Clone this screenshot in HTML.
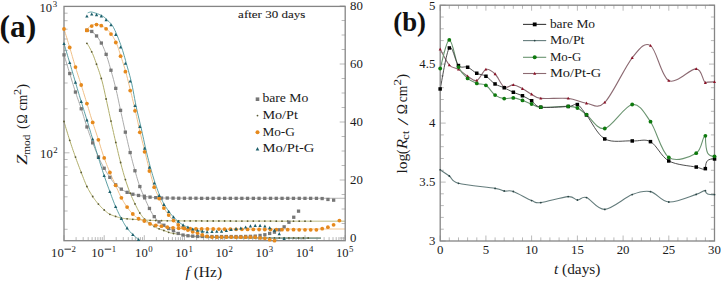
<!DOCTYPE html>
<html><head><meta charset="utf-8"><style>
html,body{margin:0;padding:0;background:#fff;}
svg{display:block;}
text{font-family:"Liberation Serif", serif;}
</style></head><body>
<svg width="725" height="281" viewBox="0 0 725 281">
<rect width="725" height="281" fill="#fff"/>
<defs><clipPath id="ca"><rect x="64" y="6.4" width="281.2" height="234.3"/></clipPath><clipPath id="cb"><rect x="440.2" y="5.2" width="274.3" height="235.8"/></clipPath></defs><path d="M76.1,240.7 v-3.6 M83.2,240.7 v-3.6 M88.2,240.7 v-3.6 M92.1,240.7 v-3.6 M95.3,240.7 v-3.6 M97.9,240.7 v-3.6 M100.3,240.7 v-3.6 M102.3,240.7 v-3.6 M64.0,240.7 v-5.5 M116.2,240.7 v-3.6 M123.3,240.7 v-3.6 M128.3,240.7 v-3.6 M132.2,240.7 v-3.6 M135.4,240.7 v-3.6 M138.1,240.7 v-3.6 M140.4,240.7 v-3.6 M142.5,240.7 v-3.6 M104.2,240.7 v-5.5 M156.4,240.7 v-3.6 M163.5,240.7 v-3.6 M168.5,240.7 v-3.6 M172.4,240.7 v-3.6 M175.6,240.7 v-3.6 M178.3,240.7 v-3.6 M180.6,240.7 v-3.6 M182.6,240.7 v-3.6 M144.3,240.7 v-5.5 M196.6,240.7 v-3.6 M203.6,240.7 v-3.6 M208.7,240.7 v-3.6 M212.6,240.7 v-3.6 M215.7,240.7 v-3.6 M218.4,240.7 v-3.6 M220.7,240.7 v-3.6 M222.8,240.7 v-3.6 M184.5,240.7 v-5.5 M236.7,240.7 v-3.6 M243.8,240.7 v-3.6 M248.8,240.7 v-3.6 M252.7,240.7 v-3.6 M255.9,240.7 v-3.6 M258.6,240.7 v-3.6 M260.9,240.7 v-3.6 M263.0,240.7 v-3.6 M224.6,240.7 v-5.5 M276.9,240.7 v-3.6 M284.0,240.7 v-3.6 M289.0,240.7 v-3.6 M292.9,240.7 v-3.6 M296.1,240.7 v-3.6 M298.7,240.7 v-3.6 M301.1,240.7 v-3.6 M303.1,240.7 v-3.6 M264.8,240.7 v-5.5 M317.0,240.7 v-3.6 M324.1,240.7 v-3.6 M329.1,240.7 v-3.6 M333.0,240.7 v-3.6 M336.2,240.7 v-3.6 M338.9,240.7 v-3.6 M341.2,240.7 v-3.6 M343.3,240.7 v-3.6 M305.0,240.7 v-5.5 M345.1,240.7 v-5.5 M64.0,229.3 h3.6 M64.0,211.0 h3.6 M64.0,196.8 h3.6 M64.0,185.3 h3.6 M64.0,175.5 h3.6 M64.0,167.0 h3.6 M64.0,159.5 h3.6 M64.0,108.8 h3.6 M64.0,83.0 h3.6 M64.0,64.7 h3.6 M64.0,50.5 h3.6 M64.0,39.0 h3.6 M64.0,29.2 h3.6 M64.0,20.7 h3.6 M64.0,13.2 h3.6 M64.0,152.8 h5.5 M64.0,6.5 h5.5 M345.2,238.0 h-5.5 M345.2,223.5 h-3.6 M345.2,209.0 h-3.6 M345.2,194.5 h-3.6 M345.2,180.0 h-5.5 M345.2,165.5 h-3.6 M345.2,151.0 h-3.6 M345.2,136.5 h-3.6 M345.2,122.0 h-5.5 M345.2,107.5 h-3.6 M345.2,93.0 h-3.6 M345.2,78.5 h-3.6 M345.2,64.0 h-5.5 M345.2,49.5 h-3.6 M345.2,35.0 h-3.6 M345.2,20.5 h-3.6 M345.2,6.0 h-5.5" stroke="#a8a8a8" stroke-width="0.8" fill="none"/><g clip-path="url(#ca)"><path d="M64.0,121.5 L64.7,123.9 L65.4,126.3 L66.1,128.6 L66.8,130.9 L67.5,133.2 L68.2,135.4 L68.9,137.7 L69.6,139.9 L70.3,142.0 L71.0,144.2 L71.7,146.3 L72.4,148.3 L73.1,150.4 L73.8,152.4 L74.5,154.4 L75.2,156.4 L75.9,158.3 L76.6,160.3 L77.3,162.2 L78.0,164.0 L78.7,165.9 L79.4,167.7 L80.1,169.6 L80.8,171.4 L81.5,173.2 L82.2,175.0 L82.9,176.8 L83.6,178.6 L84.3,180.4 L85.0,182.1 L85.7,183.8 L86.4,185.4 L87.1,186.8 L87.8,188.2 L88.5,189.5 L89.2,190.8 L89.9,192.0 L90.6,193.2 L91.3,194.4 L92.0,195.5 L92.7,196.6 L93.4,197.6 L94.1,198.6 L94.8,199.6 L95.5,200.5 L96.2,201.4 L96.9,202.3 L97.6,203.1 L98.3,204.0 L99.0,204.8 L99.7,205.5 L100.4,206.3 L101.1,207.0 L101.8,207.8 L102.5,208.4 L103.2,209.1 L103.9,209.7 L104.6,210.3 L105.3,211.0 L106.0,211.6 L106.7,212.1 L107.4,212.7 L108.1,213.2 L108.8,213.7 L109.5,214.1 L110.2,214.4 L110.9,214.8 L111.6,215.0 L112.3,215.3 L113.0,215.6 L113.7,215.8 L114.4,216.0 L115.1,216.2 L115.8,216.5 L116.5,216.7 L117.2,216.9 L117.9,217.2 L118.6,217.4 L119.3,217.6 L120.0,217.8 L120.7,218.0 L121.4,218.1 L122.1,218.2 L122.8,218.3 L123.5,218.4 L124.2,218.5 L124.9,218.6 L125.6,218.7 L126.3,218.7 L127.0,218.8 L127.7,218.9 L128.4,218.9 L129.1,219.0 L129.8,219.1 L130.5,219.1 L131.2,219.2 L131.9,219.2 L132.6,219.3 L133.3,219.3 L134.0,219.4 L134.7,219.4 L135.4,219.5 L136.1,219.5 L136.8,219.5 L137.5,219.6 L138.2,219.6 L138.9,219.6 L139.6,219.7 L140.3,219.7 L141.0,219.8 L141.7,219.8 L142.4,219.9 L143.1,219.9 L143.8,220.0 L144.5,220.0 L145.2,220.0 L145.9,220.1 L146.6,220.1 L147.3,220.2 L148.0,220.2 L148.7,220.2 L149.4,220.3 L150.1,220.3 L150.8,220.3 L151.5,220.4 L152.2,220.4 L152.9,220.4 L153.6,220.4 L154.3,220.5 L155.0,220.5 L155.7,220.5 L156.4,220.5 L157.1,220.5 L157.8,220.6 L158.5,220.6 L159.2,220.6 L159.9,220.6 L160.6,220.6 L161.3,220.7 L162.0,220.7 L162.7,220.7 L163.4,220.7 L164.1,220.7 L164.8,220.7 L165.5,220.7 L166.2,220.8 L166.9,220.8 L167.6,220.8 L168.3,220.8 L169.0,220.8 L169.7,220.8 L170.4,220.8 L171.1,220.8 L171.8,220.8 L172.5,220.8 L173.2,220.8 L173.9,220.8 L174.6,220.8 L175.3,220.8 L176.0,220.8 L176.7,220.8 L177.4,220.8 L178.1,220.8 L178.8,220.8 L179.5,220.8 L180.2,220.9 L180.9,220.9 L181.6,220.9 L182.3,220.9 L183.0,220.9 L183.7,220.9 L184.4,220.9 L185.1,220.9 L185.8,220.9 L186.5,220.9 L187.2,220.9 L187.9,220.9 L188.6,220.9 L189.3,220.9 L190.0,220.9 L190.7,220.9 L191.4,220.9 L192.1,220.9 L192.8,220.9 L193.5,220.9 L194.2,220.9 L194.9,220.9 L195.6,220.9 L196.3,220.9 L197.0,220.9 L197.7,220.9 L198.4,220.9 L199.1,220.9 L199.8,220.9 L200.5,220.9 L201.2,220.9 L201.9,220.9 L202.6,221.0 L203.3,221.0 L204.0,221.0 L204.7,221.0 L205.4,221.0 L206.1,221.0 L206.8,221.0 L207.5,221.0 L208.2,221.0 L208.9,221.0 L209.6,221.0 L210.3,221.0 L211.0,221.0 L211.7,221.0 L212.4,221.0 L213.1,221.0 L213.8,221.0 L214.5,221.0 L215.2,221.0 L215.9,221.0 L216.6,221.0 L217.3,221.0 L218.0,221.0 L218.7,221.0 L219.4,221.0 L220.1,221.0 L220.8,221.0 L221.5,221.0 L222.2,221.0 L222.9,221.0 L223.6,221.0 L224.3,221.0 L225.0,221.0 L225.7,221.0 L226.4,221.0 L227.1,221.0 L227.8,221.0 L228.5,221.0 L229.2,221.0 L229.9,221.0 L230.6,221.0 L231.3,221.1 L232.0,221.1 L232.7,221.1 L233.4,221.1 L234.1,221.1 L234.8,221.1 L235.5,221.1 L236.2,221.1 L236.9,221.1 L237.6,221.1 L238.3,221.1 L239.0,221.1 L239.7,221.1 L240.4,221.1 L241.1,221.1 L241.8,221.1 L242.5,221.1 L243.2,221.1 L243.9,221.1 L244.6,221.1 L245.3,221.1 L246.0,221.1 L246.7,221.1 L247.4,221.1 L248.1,221.1 L248.8,221.1 L249.5,221.1 L250.2,221.1 L250.9,221.1 L251.6,221.1 L252.3,221.1 L253.0,221.1 L253.7,221.1 L254.4,221.1 L255.1,221.1 L255.8,221.1 L256.5,221.1 L257.2,221.1 L257.9,221.1 L258.6,221.1 L259.3,221.1 L260.0,221.1 L260.7,221.1 L261.4,221.1 L262.1,221.1 L262.8,221.1 L263.5,221.1 L264.2,221.1 L264.9,221.1 L265.6,221.1 L266.3,221.1 L267.0,221.1 L267.7,221.1 L268.4,221.1 L269.1,221.1 L269.8,221.1 L270.5,221.1 L271.2,221.1 L271.9,221.1 L272.6,221.1 L273.3,221.1 L274.0,221.1 L274.7,221.1 L275.4,221.1 L276.1,221.2 L276.8,221.2 L277.5,221.2 L278.2,221.2 L278.9,221.2 L279.6,221.2 L280.3,221.2 L281.0,221.2 L281.7,221.2 L282.4,221.2 L283.1,221.2 L283.8,221.2 L284.5,221.2 L285.2,221.2 L285.9,221.2 L286.6,221.2 L287.3,221.2 L288.0,221.2 L288.7,221.2 L289.4,221.2 L290.1,221.2 L290.8,221.2 L291.5,221.2 L292.2,221.2 L292.9,221.2 L293.6,221.2 L294.3,221.2 L295.0,221.2 L295.7,221.2 L296.4,221.2 L297.1,221.2 L297.8,221.2 L298.5,221.2 L299.2,221.2 L299.9,221.2 L300.6,221.2 L301.3,221.2 L302.0,221.2 L302.7,221.2 L303.4,221.2 L304.1,221.2 L304.8,221.2 L305.5,221.2 L306.2,221.2 L306.9,221.2 L307.6,221.2 L308.3,221.2 L309.0,221.2 L309.7,221.2 L310.4,221.2 L311.1,221.2 L311.8,221.2 L312.5,221.2 L313.2,221.2 L313.9,221.2 L314.6,221.2 L315.3,221.2 L316.0,221.2 L316.7,221.2 L317.4,221.2 L318.1,221.2 L318.8,221.2 L319.5,221.2 L320.2,221.2 L320.9,221.2 L321.6,221.2 L322.3,221.2 L323.0,221.2 L323.7,221.2 L324.4,221.2 L325.1,221.2 L325.8,221.2 L326.5,221.2 L327.2,221.2 L327.9,221.2 L328.6,221.2 L329.3,221.2 L330.0,221.2 L330.7,221.2 L331.4,221.2 L332.1,221.2 L332.8,221.2 L333.5,221.2 L334.2,221.2 L334.9,221.2 L335.6,221.2 L336.3,221.2 L337.0,221.2 L337.7,221.2 L338.4,221.2 L339.1,221.2 L339.8,221.2 L340.5,221.2 L341.2,221.2 L341.9,221.2 L342.6,221.2 L343.3,221.2 L344.0,221.2 L344.7,221.2 L345.2,221.2" fill="none" stroke="#b0ae6c" stroke-width="1.0" stroke-linejoin="round"/><path d="M86.9,43.3 L87.6,44.3 L88.3,45.4 L89.0,46.5 L89.7,47.8 L90.4,49.1 L91.1,50.5 L91.8,52.0 L92.5,53.5 L93.2,55.1 L93.9,56.9 L94.6,58.8 L95.3,60.7 L96.0,62.7 L96.7,64.7 L97.4,66.7 L98.1,68.6 L98.8,70.7 L99.5,72.7 L100.2,74.9 L100.9,77.1 L101.6,79.5 L102.3,82.0 L103.0,84.8 L103.7,87.8 L104.4,90.9 L105.1,94.2 L105.8,97.4 L106.5,100.6 L107.2,103.8 L107.9,107.0 L108.6,110.3 L109.3,113.5 L110.0,116.8 L110.7,120.0 L111.4,123.2 L112.1,126.3 L112.8,129.4 L113.5,132.5 L114.2,135.6 L114.9,138.7 L115.6,141.7 L116.3,144.7 L117.0,147.7 L117.7,150.7 L118.4,153.7 L119.1,156.6 L119.8,159.5 L120.5,162.2 L121.2,164.9 L121.9,167.6 L122.6,170.1 L123.3,172.6 L124.0,175.1 L124.7,177.4 L125.4,179.7 L126.1,181.9 L126.8,184.0 L127.5,186.0 L128.2,188.0 L128.9,189.9 L129.6,191.7 L130.3,193.5 L131.0,195.2 L131.7,196.8 L132.4,198.4 L133.1,199.9 L133.8,201.4 L134.5,202.9 L135.2,204.3 L135.9,205.7 L136.6,207.1 L137.3,208.5 L138.0,209.9 L138.7,211.2 L139.4,212.4 L140.1,213.4 L140.8,214.5 L141.5,215.4 L142.2,216.3 L142.9,217.2 L143.6,218.0 L144.3,218.8 L145.0,219.5 L145.7,220.2 L146.4,220.8 L147.1,221.3 L147.8,221.9 L148.5,222.4 L149.2,222.9 L149.9,223.4 L150.6,223.9 L151.3,224.4 L152.0,224.9 L152.7,225.4 L153.4,225.9 L154.1,226.4 L154.8,226.8 L155.5,227.2 L156.2,227.6 L156.9,228.0 L157.6,228.3 L158.3,228.6 L159.0,228.8 L159.7,229.1 L160.4,229.3 L161.1,229.6 L161.8,229.8 L162.5,230.0 L163.2,230.3 L163.9,230.5 L164.6,230.7 L165.3,231.0 L166.0,231.3 L166.7,231.6 L167.4,231.8 L168.1,232.1 L168.8,232.4 L169.5,232.6 L170.2,232.8 L170.9,233.0 L171.6,233.1 L172.3,233.3 L173.0,233.4 L173.7,233.5 L174.4,233.6 L175.1,233.7 L175.8,233.8 L176.5,233.9 L177.2,234.0 L177.9,234.1 L178.6,234.2 L179.3,234.3 L180.0,234.5 L180.7,234.6 L181.4,234.7 L182.1,234.8 L182.8,235.0 L183.5,235.1 L184.2,235.2 L184.9,235.3 L185.6,235.4 L186.3,235.5 L187.0,235.7 L187.7,235.8 L188.4,235.9 L189.1,236.0 L189.8,236.1 L190.5,236.2 L191.2,236.3 L191.9,236.4 L192.6,236.4 L193.3,236.5 L194.0,236.5 L194.7,236.6 L195.4,236.6 L196.1,236.7 L196.8,236.7 L197.5,236.8 L198.2,236.8 L198.9,236.9 L199.6,236.9 L200.3,236.9 L201.0,237.0 L201.7,237.0 L202.4,237.1 L203.1,237.1 L203.8,237.1 L204.5,237.1 L205.2,237.2 L205.9,237.2 L206.6,237.2 L207.3,237.2 L208.0,237.3 L208.7,237.3 L209.4,237.3 L210.1,237.3 L210.8,237.3 L211.5,237.3 L212.2,237.3 L212.9,237.4 L213.6,237.4 L214.3,237.4 L215.0,237.4 L215.7,237.4 L216.4,237.4 L217.1,237.4 L217.8,237.4 L218.5,237.4 L219.2,237.5 L219.9,237.5 L220.6,237.5 L221.3,237.5 L222.0,237.5 L222.7,237.5 L223.4,237.5 L224.1,237.5 L224.8,237.5 L225.5,237.5 L226.2,237.5 L226.9,237.6 L227.6,237.6 L228.3,237.6 L229.0,237.6 L229.7,237.6 L230.4,237.6 L231.1,237.6 L231.8,237.6 L232.5,237.6 L233.2,237.6 L233.9,237.6 L234.6,237.6 L235.3,237.6 L236.0,237.6 L236.7,237.6 L237.4,237.7 L238.1,237.7 L238.8,237.7 L239.5,237.7 L240.2,237.7 L240.9,237.7 L241.6,237.7 L242.3,237.7 L243.0,237.7 L243.7,237.7 L244.4,237.7 L245.1,237.7 L245.8,237.7 L246.5,237.7 L247.2,237.7 L247.9,237.7 L248.6,237.7 L249.3,237.7 L250.0,237.7 L250.7,237.7 L251.4,237.8 L252.1,237.8 L252.8,237.8 L253.5,237.8 L254.2,237.8 L254.9,237.8 L255.6,237.8 L256.3,237.8 L257.0,237.8 L257.7,237.8 L258.4,237.8 L259.1,237.8 L259.8,237.8 L260.5,237.8 L261.2,237.8 L261.9,237.8 L262.6,237.8 L263.3,237.8 L264.0,237.8 L264.7,237.8 L265.4,237.8 L266.1,237.8 L266.8,237.8 L267.5,237.8 L268.2,237.8 L268.9,237.8 L269.6,237.8 L270.3,237.9 L271.0,237.9 L271.7,237.9 L272.4,237.9 L273.1,237.9 L273.8,237.9 L274.5,237.9 L275.2,237.9 L275.9,237.9 L276.6,237.9 L277.3,237.9 L278.0,237.9 L278.7,237.9 L279.4,237.9 L280.1,237.9 L280.8,237.9 L281.5,237.9 L282.2,237.9 L282.9,237.9 L283.6,237.9 L284.3,237.9 L285.0,237.9 L285.7,237.9 L286.4,237.9 L287.1,237.9 L287.8,237.9 L288.5,237.9 L289.2,237.9 L289.9,237.9 L290.6,237.9 L291.3,237.9 L292.0,237.9 L292.7,237.9 L293.4,237.9 L294.1,238.0 L294.8,238.0 L295.5,238.0 L296.2,238.0 L296.9,238.0 L297.6,238.0 L298.3,238.0 L299.0,238.0 L299.7,238.0 L300.4,238.0 L301.1,238.0 L301.8,238.0 L302.5,238.0 L303.2,238.0 L303.9,238.0 L304.6,238.0 L305.3,238.0 L306.0,238.0 L306.7,238.0 L307.4,238.0 L308.1,238.0 L308.8,238.0 L309.5,238.0 L310.2,238.0 L310.9,238.0 L311.6,238.0 L312.3,238.0 L313.0,238.0 L313.7,238.0 L314.4,238.0 L315.1,238.0 L315.8,238.0 L316.5,238.0 L317.2,238.0 L317.9,238.0 L318.6,238.0 L319.3,238.0 L320.0,238.0 L320.7,238.0 L321.0,238.0" fill="none" stroke="#b0ae6c" stroke-width="1.0" stroke-linejoin="round"/><path d="M64.0,54.9 L64.7,57.2 L65.4,59.4 L66.1,61.7 L66.8,64.0 L67.5,66.3 L68.2,68.5 L68.9,70.8 L69.6,73.1 L70.3,75.4 L71.0,77.6 L71.7,80.0 L72.4,82.3 L73.1,84.5 L73.8,86.8 L74.5,89.0 L75.2,91.2 L75.9,93.3 L76.6,95.4 L77.3,97.4 L78.0,99.4 L78.7,101.4 L79.4,103.4 L80.1,105.4 L80.8,107.5 L81.5,109.6 L82.2,111.8 L82.9,114.0 L83.6,116.3 L84.3,118.6 L85.0,120.9 L85.7,123.1 L86.4,125.3 L87.1,127.4 L87.8,129.4 L88.5,131.4 L89.2,133.4 L89.9,135.4 L90.6,137.3 L91.3,139.2 L92.0,141.0 L92.7,142.9 L93.4,144.7 L94.1,146.5 L94.8,148.3 L95.5,150.1 L96.2,151.8 L96.9,153.5 L97.6,155.1 L98.3,156.7 L99.0,158.2 L99.7,159.7 L100.4,161.1 L101.1,162.5 L101.8,163.9 L102.5,165.2 L103.2,166.5 L103.9,167.8 L104.6,169.0 L105.3,170.2 L106.0,171.4 L106.7,172.5 L107.4,173.6 L108.1,174.7 L108.8,175.7 L109.5,176.7 L110.2,177.7 L110.9,178.8 L111.6,179.8 L112.3,180.8 L113.0,181.7 L113.7,182.7 L114.4,183.5 L115.1,184.3 L115.8,185.0 L116.5,185.6 L117.2,186.2 L117.9,186.8 L118.6,187.3 L119.3,187.8 L120.0,188.2 L120.7,188.7 L121.4,189.2 L122.1,189.6 L122.8,190.1 L123.5,190.5 L124.2,190.9 L124.9,191.3 L125.6,191.6 L126.3,192.0 L127.0,192.3 L127.7,192.6 L128.4,192.9 L129.1,193.1 L129.8,193.4 L130.5,193.6 L131.2,193.8 L131.9,194.0 L132.6,194.2 L133.3,194.4 L134.0,194.5 L134.7,194.7 L135.4,194.8 L136.1,195.0 L136.8,195.1 L137.5,195.2 L138.2,195.3 L138.9,195.5 L139.6,195.6 L140.3,195.7 L141.0,195.8 L141.7,195.9 L142.4,195.9 L143.1,196.0 L143.8,196.1 L144.5,196.2 L145.2,196.4 L145.9,196.5 L146.6,196.6 L147.3,196.7 L148.0,196.9 L148.7,197.0 L149.4,197.1 L150.1,197.2 L150.8,197.2 L151.5,197.3 L152.2,197.3 L152.9,197.4 L153.6,197.5 L154.3,197.5 L155.0,197.6 L155.7,197.6 L156.4,197.7 L157.1,197.7 L157.8,197.8 L158.5,197.8 L159.2,197.9 L159.9,197.9 L160.6,198.0 L161.3,198.0 L162.0,198.0 L162.7,198.0 L163.4,198.0 L164.1,198.0 L164.8,198.1 L165.5,198.1 L166.2,198.1 L166.9,198.1 L167.6,198.1 L168.3,198.1 L169.0,198.1 L169.7,198.1 L170.4,198.1 L171.1,198.1 L171.8,198.1 L172.5,198.2 L173.2,198.2 L173.9,198.2 L174.6,198.2 L175.3,198.2 L176.0,198.2 L176.7,198.2 L177.4,198.2 L178.1,198.2 L178.8,198.2 L179.5,198.2 L180.2,198.2 L180.9,198.2 L181.6,198.2 L182.3,198.2 L183.0,198.2 L183.7,198.3 L184.4,198.3 L185.1,198.3 L185.8,198.3 L186.5,198.3 L187.2,198.3 L187.9,198.3 L188.6,198.3 L189.3,198.3 L190.0,198.3 L190.7,198.3 L191.4,198.3 L192.1,198.3 L192.8,198.3 L193.5,198.3 L194.2,198.3 L194.9,198.3 L195.6,198.3 L196.3,198.3 L197.0,198.3 L197.7,198.3 L198.4,198.3 L199.1,198.3 L199.8,198.3 L200.5,198.3 L201.2,198.3 L201.9,198.3 L202.6,198.3 L203.3,198.3 L204.0,198.3 L204.7,198.3 L205.4,198.3 L206.1,198.3 L206.8,198.3 L207.5,198.3 L208.2,198.3 L208.9,198.3 L209.6,198.3 L210.3,198.3 L211.0,198.3 L211.7,198.3 L212.4,198.3 L213.1,198.3 L213.8,198.3 L214.5,198.3 L215.2,198.3 L215.9,198.3 L216.6,198.3 L217.3,198.3 L218.0,198.3 L218.7,198.3 L219.4,198.3 L220.1,198.3 L220.8,198.3 L221.5,198.3 L222.2,198.3 L222.9,198.3 L223.6,198.3 L224.3,198.3 L225.0,198.3 L225.7,198.3 L226.4,198.3 L227.1,198.3 L227.8,198.3 L228.5,198.3 L229.2,198.3 L229.9,198.3 L230.6,198.3 L231.3,198.3 L232.0,198.3 L232.7,198.3 L233.4,198.3 L234.1,198.3 L234.8,198.3 L235.5,198.3 L236.2,198.3 L236.9,198.3 L237.6,198.3 L238.3,198.3 L239.0,198.3 L239.7,198.3 L240.4,198.3 L241.1,198.3 L241.8,198.3 L242.5,198.3 L243.2,198.3 L243.9,198.3 L244.6,198.3 L245.3,198.3 L246.0,198.3 L246.7,198.3 L247.4,198.3 L248.1,198.3 L248.8,198.3 L249.5,198.3 L250.2,198.3 L250.9,198.3 L251.6,198.3 L252.3,198.3 L253.0,198.3 L253.7,198.3 L254.4,198.3 L255.1,198.3 L255.8,198.3 L256.5,198.3 L257.2,198.3 L257.9,198.3 L258.6,198.3 L259.3,198.3 L260.0,198.3 L260.7,198.3 L261.4,198.3 L262.1,198.3 L262.8,198.3 L263.5,198.3 L264.2,198.3 L264.9,198.3 L265.6,198.3 L266.3,198.3 L267.0,198.3 L267.7,198.3 L268.4,198.3 L269.1,198.3 L269.8,198.3 L270.5,198.3 L271.2,198.3 L271.9,198.3 L272.6,198.3 L273.3,198.3 L274.0,198.3 L274.7,198.3 L275.4,198.3 L276.1,198.3 L276.8,198.3 L277.5,198.3 L278.2,198.3 L278.9,198.3 L279.6,198.3 L280.3,198.3 L281.0,198.3 L281.7,198.3 L282.4,198.3 L283.1,198.3 L283.8,198.3 L284.5,198.3 L285.2,198.3 L285.9,198.3 L286.6,198.3 L287.3,198.3 L288.0,198.3 L288.7,198.3 L289.4,198.3 L290.1,198.3 L290.8,198.3 L291.5,198.3 L292.2,198.3 L292.9,198.3 L293.6,198.3 L294.3,198.3 L295.0,198.3 L295.7,198.3 L296.4,198.3 L297.1,198.3 L297.8,198.3 L298.5,198.3 L299.2,198.3 L299.9,198.3 L300.6,198.3 L301.3,198.3 L302.0,198.3 L302.7,198.3 L303.4,198.3 L304.1,198.3 L304.8,198.3 L305.5,198.3 L306.2,198.3 L306.9,198.3 L307.6,198.3 L308.3,198.3 L309.0,198.3 L309.7,198.3 L310.4,198.3 L311.1,198.3 L311.8,198.3 L312.5,198.3 L313.2,198.3 L313.9,198.3 L314.6,198.3 L315.3,198.3 L316.0,198.3 L316.7,198.3 L317.4,198.3 L318.1,198.3 L318.8,198.3 L319.5,198.3 L320.2,198.3 L320.9,198.3 L321.6,198.3 L322.3,198.3 L323.0,198.3 L323.7,198.3 L324.4,198.3 L325.1,198.3 L325.8,198.3 L326.5,198.3 L327.2,198.3 L327.9,198.3 L328.6,198.3 L329.3,198.3 L330.0,198.3 L330.7,198.3 L331.4,198.3 L332.1,198.3 L332.8,198.3 L333.5,198.3 L334.2,198.3 L334.9,198.3 L335.6,198.3 L336.3,198.3 L337.0,198.3 L337.7,198.3 L338.4,198.3 L339.1,198.3 L339.8,198.3 L340.5,198.3 L341.2,198.3 L341.9,198.3 L342.6,198.3 L343.3,198.3 L344.0,198.3 L344.7,198.3 L345.2,198.3" fill="none" stroke="#a2a2a2" stroke-width="0.9" stroke-linejoin="round"/><path d="M86.9,30.3 L87.6,30.3 L88.3,30.4 L89.0,30.6 L89.7,30.8 L90.4,31.0 L91.1,31.3 L91.8,31.5 L92.5,31.9 L93.2,32.5 L93.9,33.1 L94.6,33.8 L95.3,34.6 L96.0,35.4 L96.7,36.2 L97.4,37.0 L98.1,37.9 L98.8,38.9 L99.5,40.0 L100.2,41.1 L100.9,42.3 L101.6,43.5 L102.3,44.9 L103.0,46.4 L103.7,48.0 L104.4,49.7 L105.1,51.5 L105.8,53.4 L106.5,55.4 L107.2,57.5 L107.9,59.7 L108.6,62.0 L109.3,64.4 L110.0,66.9 L110.7,69.4 L111.4,71.9 L112.1,74.4 L112.8,76.9 L113.5,79.5 L114.2,82.1 L114.9,84.9 L115.6,87.7 L116.3,90.6 L117.0,93.6 L117.7,96.8 L118.4,100.1 L119.1,103.5 L119.8,106.8 L120.5,110.0 L121.2,113.2 L121.9,116.4 L122.6,119.6 L123.3,122.8 L124.0,126.0 L124.7,129.1 L125.4,132.2 L126.1,135.3 L126.8,138.3 L127.5,141.3 L128.2,144.3 L128.9,147.3 L129.6,150.2 L130.3,153.0 L131.0,155.8 L131.7,158.5 L132.4,161.2 L133.1,163.9 L133.8,166.5 L134.5,169.0 L135.2,171.5 L135.9,173.9 L136.6,176.4 L137.3,178.8 L138.0,181.1 L138.7,183.3 L139.4,185.4 L140.1,187.3 L140.8,189.2 L141.5,190.9 L142.2,192.5 L142.9,194.1 L143.6,195.6 L144.3,197.2 L145.0,198.8 L145.7,200.4 L146.4,202.0 L147.1,203.5 L147.8,205.1 L148.5,206.6 L149.2,208.0 L149.9,209.4 L150.6,210.7 L151.3,212.0 L152.0,213.2 L152.7,214.4 L153.4,215.5 L154.1,216.5 L154.8,217.4 L155.5,218.2 L156.2,219.0 L156.9,219.8 L157.6,220.5 L158.3,221.2 L159.0,221.8 L159.7,222.3 L160.4,222.9 L161.1,223.4 L161.8,223.8 L162.5,224.3 L163.2,224.8 L163.9,225.3 L164.6,225.8 L165.3,226.3 L166.0,226.9 L166.7,227.4 L167.4,227.8 L168.1,228.3 L168.8,228.7 L169.5,229.0 L170.2,229.3 L170.9,229.6 L171.6,229.9 L172.3,230.2 L173.0,230.5 L173.7,230.8 L174.4,231.2 L175.1,231.6 L175.8,232.1 L176.5,232.5 L177.2,232.9 L177.9,233.3 L178.6,233.6 L179.3,233.8 L180.0,234.1 L180.7,234.4 L181.4,234.6 L182.1,234.8 L182.8,235.0 L183.5,235.1 L184.2,235.2 L184.9,235.3 L185.6,235.4 L186.3,235.5 L187.0,235.6 L187.7,235.7 L188.4,235.8 L189.1,235.8 L189.8,235.9 L190.5,236.0 L191.2,236.0 L191.9,236.1 L192.6,236.1 L193.3,236.2 L194.0,236.2 L194.7,236.3 L195.4,236.3 L196.1,236.4 L196.8,236.4 L197.5,236.4 L198.2,236.4 L198.9,236.4 L199.6,236.4 L200.3,236.4 L201.0,236.4 L201.7,236.5 L202.4,236.5 L203.1,236.5 L203.8,236.5 L204.5,236.5 L205.2,236.5 L205.9,236.5 L206.6,236.5 L207.3,236.5 L208.0,236.5 L208.7,236.5 L209.4,236.5 L210.1,236.5 L210.8,236.5 L211.5,236.5 L212.2,236.5 L212.9,236.6 L213.6,236.6 L214.3,236.6 L215.0,236.6 L215.7,236.6 L216.4,236.6 L217.1,236.6 L217.8,236.6 L218.5,236.6 L219.2,236.6 L219.9,236.6 L220.6,236.6 L221.3,236.6 L222.0,236.6 L222.7,236.6 L223.4,236.6 L224.1,236.6 L224.8,236.6 L225.5,236.6 L226.2,236.6 L226.9,236.6 L227.6,236.6 L228.3,236.6 L229.0,236.6 L229.7,236.6 L230.4,236.6 L231.1,236.6 L231.8,236.6 L232.5,236.6 L233.2,236.6 L233.9,236.6 L234.6,236.6 L235.3,236.6 L236.0,236.6 L236.7,236.6 L237.4,236.6 L238.1,236.5 L238.8,236.5 L239.5,236.5 L240.2,236.5 L240.9,236.5 L241.6,236.5 L242.3,236.5 L243.0,236.5 L243.7,236.5 L244.4,236.4 L245.1,236.4 L245.8,236.4 L246.5,236.4 L247.2,236.4 L247.9,236.4 L248.6,236.4 L249.3,236.3 L250.0,236.3 L250.7,236.3 L251.4,236.3 L252.1,236.3 L252.8,236.3 L253.5,236.2 L254.2,236.2 L254.9,236.2 L255.0,236.2" fill="none" stroke="#a2a2a2" stroke-width="0.9" stroke-linejoin="round"/><path d="M64.0,29.0 L64.7,31.2 L65.4,33.4 L66.1,35.7 L66.8,37.9 L67.5,40.2 L68.2,42.5 L68.9,44.8 L69.6,47.1 L70.3,49.4 L71.0,51.8 L71.7,54.2 L72.4,56.7 L73.1,59.1 L73.8,61.5 L74.5,63.9 L75.2,66.2 L75.9,68.5 L76.6,70.7 L77.3,72.9 L78.0,75.1 L78.7,77.2 L79.4,79.4 L80.1,81.5 L80.8,83.7 L81.5,86.0 L82.2,88.2 L82.9,90.4 L83.6,92.7 L84.3,95.0 L85.0,97.2 L85.7,99.5 L86.4,101.8 L87.1,104.1 L87.8,106.4 L88.5,108.7 L89.2,111.0 L89.9,113.4 L90.6,115.7 L91.3,118.0 L92.0,120.2 L92.7,122.4 L93.4,124.6 L94.1,126.7 L94.8,128.8 L95.5,130.9 L96.2,133.0 L96.9,135.1 L97.6,137.2 L98.3,139.4 L99.0,141.6 L99.7,143.9 L100.4,146.2 L101.1,148.5 L101.8,150.8 L102.5,153.0 L103.2,155.1 L103.9,157.2 L104.6,159.1 L105.3,161.0 L106.0,162.8 L106.7,164.6 L107.4,166.4 L108.1,168.1 L108.8,169.8 L109.5,171.5 L110.2,173.2 L110.9,174.8 L111.6,176.4 L112.3,178.0 L113.0,179.5 L113.7,181.0 L114.4,182.6 L115.1,184.1 L115.8,185.7 L116.5,187.3 L117.2,188.9 L117.9,190.5 L118.6,192.1 L119.3,193.6 L120.0,195.1 L120.7,196.5 L121.4,197.9 L122.1,199.1 L122.8,200.4 L123.5,201.6 L124.2,202.7 L124.9,203.9 L125.6,204.9 L126.3,206.0 L127.0,207.0 L127.7,207.9 L128.4,208.9 L129.1,209.8 L129.8,210.7 L130.5,211.5 L131.2,212.3 L131.9,213.1 L132.6,213.8 L133.3,214.5 L134.0,215.2 L134.7,215.8 L135.4,216.4 L136.1,217.0 L136.8,217.6 L137.5,218.1 L138.2,218.5 L138.9,218.9 L139.6,219.2 L140.3,219.5 L141.0,219.7 L141.7,220.0 L142.4,220.2 L143.1,220.5 L143.8,220.8 L144.5,221.1 L145.2,221.4 L145.9,221.8 L146.6,222.2 L147.3,222.6 L148.0,223.0 L148.7,223.4 L149.4,223.7 L150.1,223.9 L150.8,224.1 L151.5,224.3 L152.2,224.5 L152.9,224.6 L153.6,224.8 L154.3,225.0 L155.0,225.1 L155.7,225.2 L156.4,225.4 L157.1,225.5 L157.8,225.6 L158.5,225.7 L159.2,225.9 L159.9,226.0 L160.6,226.1 L161.3,226.2 L162.0,226.3 L162.7,226.5 L163.4,226.6 L164.1,226.7 L164.8,226.8 L165.5,227.0 L166.2,227.1 L166.9,227.2 L167.6,227.3 L168.3,227.3 L169.0,227.4 L169.7,227.5 L170.4,227.6 L171.1,227.6 L171.8,227.7 L172.5,227.8 L173.2,227.8 L173.9,227.9 L174.6,228.0 L175.3,228.0 L176.0,228.1 L176.7,228.2 L177.4,228.2 L178.1,228.3 L178.8,228.3 L179.5,228.3 L180.2,228.4 L180.9,228.4 L181.6,228.4 L182.3,228.4 L183.0,228.5 L183.7,228.5 L184.4,228.5 L185.1,228.5 L185.8,228.6 L186.5,228.6 L187.2,228.6 L187.9,228.6 L188.6,228.7 L189.3,228.7 L190.0,228.7 L190.7,228.7 L191.4,228.7 L192.1,228.7 L192.8,228.7 L193.5,228.7 L194.2,228.8 L194.9,228.8 L195.6,228.8 L196.3,228.8 L197.0,228.8 L197.7,228.8 L198.4,228.8 L199.1,228.8 L199.8,228.8 L200.5,228.8 L201.2,228.8 L201.9,228.8 L202.6,228.9 L203.3,228.9 L204.0,228.9 L204.7,228.9 L205.4,228.9 L206.1,228.9 L206.8,228.9 L207.5,228.9 L208.2,228.9 L208.9,228.9 L209.6,228.9 L210.3,228.9 L211.0,228.9 L211.7,228.9 L212.4,228.9 L213.1,228.9 L213.8,228.9 L214.5,229.0 L215.2,229.0 L215.9,229.0 L216.6,229.0 L217.3,229.0 L218.0,229.0 L218.7,229.0 L219.4,229.0 L220.1,229.0 L220.8,229.0 L221.5,229.0 L222.2,229.0 L222.9,229.0 L223.6,229.0 L224.3,229.0 L225.0,229.0 L225.7,229.0 L226.4,229.0 L227.1,229.0 L227.8,229.0 L228.5,229.0 L229.2,229.0 L229.9,229.0 L230.6,229.0 L231.3,229.0 L232.0,229.0 L232.7,229.0 L233.4,229.0 L234.1,229.0 L234.8,229.0 L235.5,229.0 L236.2,229.0 L236.9,229.0 L237.6,229.0 L238.3,229.0 L239.0,229.0 L239.7,229.0 L240.4,229.0 L241.1,229.0 L241.8,229.0 L242.5,229.0 L243.2,229.0 L243.9,229.0 L244.6,229.0 L245.3,229.0 L246.0,229.0 L246.7,229.0 L247.4,229.0 L248.1,229.0 L248.8,229.0 L249.5,229.0 L250.2,229.0 L250.9,229.0 L251.6,229.0 L252.3,229.0 L253.0,229.0 L253.7,229.0 L254.4,229.0 L255.1,229.0 L255.8,229.0 L256.5,229.0 L257.2,229.0 L257.9,229.0 L258.6,229.0 L259.3,229.0 L260.0,229.0 L260.7,229.0 L261.4,229.0 L262.1,229.0 L262.8,229.0 L263.5,229.0 L264.2,229.0 L264.9,229.0 L265.6,229.0 L266.3,229.0 L267.0,229.0 L267.7,229.0 L268.4,229.0 L269.1,229.0 L269.8,229.0 L270.5,229.0 L271.2,229.0 L271.9,229.0 L272.6,229.0 L273.3,229.0 L274.0,229.0 L274.7,229.0 L275.4,229.0 L276.1,229.0 L276.8,229.0 L277.5,229.0 L278.2,229.0 L278.9,229.0 L279.6,229.0 L280.3,229.0 L281.0,229.0 L281.7,229.0 L282.4,229.0 L283.1,229.0 L283.8,229.0 L284.5,229.0 L285.2,229.0 L285.9,229.0 L286.6,229.0 L287.3,229.0 L288.0,229.0 L288.7,229.0 L289.4,229.0 L290.1,229.0 L290.8,229.0 L291.5,229.0 L292.2,229.0 L292.9,229.0 L293.6,229.0 L294.3,229.0 L295.0,229.0 L295.7,229.0 L296.4,229.0 L297.1,229.0 L297.8,229.0 L298.5,229.0 L299.2,229.0 L299.9,229.0 L300.6,229.0 L301.3,229.0 L302.0,229.0 L302.7,229.0 L303.4,229.0 L304.1,229.0 L304.8,229.0 L305.5,229.0 L306.2,229.0 L306.9,229.0 L307.6,229.0 L308.3,229.0 L309.0,229.0 L309.7,229.0 L310.4,229.0 L311.1,229.0 L311.8,229.0 L312.5,229.0 L313.2,229.0 L313.9,229.0 L314.6,229.0 L315.3,229.0 L316.0,229.0 L316.7,229.0 L317.4,229.0 L318.1,229.0 L318.8,229.0 L319.5,229.0 L320.2,229.0 L320.9,229.0 L321.6,229.0 L322.3,229.0 L323.0,229.0 L323.7,229.0 L324.4,229.0 L325.1,229.0 L325.8,229.0 L326.5,229.0 L327.2,229.0 L327.9,229.0 L328.6,229.0 L329.3,229.0 L330.0,229.0 L330.7,229.0 L331.4,229.0 L332.1,229.0 L332.8,229.0 L333.5,229.0 L334.2,229.0 L334.9,229.0 L335.6,229.0 L336.3,229.0 L337.0,229.0 L337.7,229.0 L338.4,229.0 L339.1,229.0 L339.8,229.0 L340.5,229.0 L341.2,229.0 L341.9,229.0 L342.6,229.0 L343.3,229.0 L344.0,229.0 L344.7,229.0 L345.2,229.0" fill="none" stroke="#f0c088" stroke-width="1.0" stroke-linejoin="round"/><path d="M86.9,29.3 L87.6,28.5 L88.3,27.8 L89.0,27.2 L89.7,26.6 L90.4,26.1 L91.1,25.7 L91.8,25.4 L92.5,25.1 L93.2,24.9 L93.9,24.7 L94.6,24.5 L95.3,24.3 L96.0,24.3 L96.7,24.3 L97.4,24.3 L98.1,24.5 L98.8,24.7 L99.5,24.9 L100.2,25.2 L100.9,25.5 L101.6,25.7 L102.3,26.1 L103.0,26.4 L103.7,26.8 L104.4,27.3 L105.1,27.8 L105.8,28.3 L106.5,28.9 L107.2,29.5 L107.9,30.2 L108.6,30.9 L109.3,31.6 L110.0,32.5 L110.7,33.4 L111.4,34.3 L112.1,35.3 L112.8,36.4 L113.5,37.6 L114.2,38.8 L114.9,40.1 L115.6,41.5 L116.3,43.0 L117.0,44.6 L117.7,46.5 L118.4,48.5 L119.1,50.6 L119.8,52.9 L120.5,55.1 L121.2,57.2 L121.9,59.4 L122.6,61.6 L123.3,63.8 L124.0,66.0 L124.7,68.3 L125.4,70.7 L126.1,73.2 L126.8,75.8 L127.5,78.5 L128.2,81.3 L128.9,84.1 L129.6,87.0 L130.3,89.8 L131.0,92.6 L131.7,95.5 L132.4,98.4 L133.1,101.4 L133.8,104.3 L134.5,107.3 L135.2,110.3 L135.9,113.4 L136.6,116.5 L137.3,119.7 L138.0,122.9 L138.7,126.1 L139.4,129.2 L140.1,132.2 L140.8,135.2 L141.5,138.0 L142.2,140.9 L142.9,143.7 L143.6,146.5 L144.3,149.3 L145.0,152.1 L145.7,154.9 L146.4,157.8 L147.1,160.7 L147.8,163.5 L148.5,166.3 L149.2,169.0 L149.9,171.6 L150.6,174.2 L151.3,176.8 L152.0,179.3 L152.7,181.8 L153.4,184.0 L154.1,186.1 L154.8,188.1 L155.5,189.9 L156.2,191.6 L156.9,193.3 L157.6,194.9 L158.3,196.5 L159.0,198.0 L159.7,199.6 L160.4,201.1 L161.1,202.6 L161.8,204.0 L162.5,205.4 L163.2,206.7 L163.9,208.0 L164.6,209.1 L165.3,210.2 L166.0,211.3 L166.7,212.3 L167.4,213.3 L168.1,214.3 L168.8,215.2 L169.5,216.1 L170.2,216.9 L170.9,217.8 L171.6,218.5 L172.3,219.3 L173.0,220.1 L173.7,220.8 L174.4,221.5 L175.1,222.2 L175.8,222.9 L176.5,223.5 L177.2,224.1 L177.9,224.7 L178.6,225.2 L179.3,225.7 L180.0,226.1 L180.7,226.5 L181.4,226.9 L182.1,227.3 L182.8,227.7 L183.5,228.1 L184.2,228.4 L184.9,228.7 L185.6,229.0 L186.3,229.3 L187.0,229.6 L187.7,229.9 L188.4,230.2 L189.1,230.5 L189.8,230.7 L190.5,231.0 L191.2,231.3 L191.9,231.5 L192.6,231.8 L193.3,232.0 L194.0,232.2 L194.7,232.4 L195.4,232.6 L196.1,232.7 L196.8,232.9 L197.5,233.1 L198.2,233.4 L198.9,233.6 L199.6,233.9 L200.3,234.2 L201.0,234.4 L201.7,234.7 L202.4,234.9 L203.1,235.2 L203.8,235.4 L204.5,235.7 L205.2,235.9 L205.9,236.1 L206.6,236.3 L207.3,236.5 L208.0,236.6 L208.7,236.7 L209.4,236.9 L210.1,237.0 L210.8,237.0 L211.5,237.1 L212.2,237.1 L212.9,237.1 L213.6,237.1 L214.3,237.1 L215.0,237.1 L215.7,237.1 L216.4,237.1 L217.1,237.1 L217.8,237.1 L218.5,237.1 L219.2,237.1 L219.9,237.1 L220.6,237.1 L221.3,237.1 L222.0,237.1 L222.7,237.1 L223.4,237.1 L224.1,237.1 L224.8,237.1 L225.5,237.1 L226.2,237.1 L226.9,237.1 L227.6,237.1 L228.3,237.1 L229.0,237.1 L229.7,237.1 L230.4,237.1 L231.1,237.1 L231.8,237.1 L232.5,237.1 L233.2,237.1 L233.9,237.1 L234.6,237.2 L235.3,237.2 L236.0,237.2 L236.7,237.2 L237.4,237.2 L238.1,237.2 L238.8,237.2 L239.5,237.2 L240.2,237.2 L240.9,237.2 L241.6,237.2 L242.3,237.2 L243.0,237.2 L243.7,237.2 L244.4,237.2 L245.1,237.2 L245.8,237.2 L246.5,237.2 L247.2,237.2 L247.9,237.2 L248.6,237.2 L249.3,237.2 L250.0,237.2 L250.7,237.2 L251.4,237.2 L252.1,237.2 L252.8,237.2 L253.5,237.2 L254.2,237.2 L254.9,237.2 L255.6,237.2 L256.3,237.3 L257.0,237.4 L257.7,237.5 L257.9,237.6" fill="none" stroke="#f0c088" stroke-width="1.0" stroke-linejoin="round"/><path d="M64.0,43.7 L64.7,46.0 L65.4,48.3 L66.1,50.6 L66.8,53.0 L67.5,55.3 L68.2,57.7 L68.9,60.0 L69.6,62.4 L70.3,64.7 L71.0,67.1 L71.7,69.5 L72.4,71.9 L73.1,74.3 L73.8,76.7 L74.5,79.1 L75.2,81.5 L75.9,83.9 L76.6,86.2 L77.3,88.6 L78.0,91.0 L78.7,93.3 L79.4,95.6 L80.1,98.0 L80.8,100.3 L81.5,102.6 L82.2,104.8 L82.9,107.1 L83.6,109.3 L84.3,111.5 L85.0,113.8 L85.7,116.0 L86.4,118.3 L87.1,120.6 L87.8,122.9 L88.5,125.2 L89.2,127.6 L89.9,129.9 L90.6,132.3 L91.3,134.6 L92.0,136.9 L92.7,139.2 L93.4,141.5 L94.1,143.8 L94.8,146.0 L95.5,148.3 L96.2,150.5 L96.9,152.8 L97.6,155.0 L98.3,157.2 L99.0,159.5 L99.7,161.7 L100.4,164.0 L101.1,166.2 L101.8,168.4 L102.5,170.6 L103.2,172.8 L103.9,174.9 L104.6,177.0 L105.3,179.0 L106.0,181.0 L106.7,183.0 L107.4,185.0 L108.1,186.9 L108.8,188.8 L109.5,190.7 L110.2,192.6 L110.9,194.5 L111.6,196.4 L112.3,198.3 L113.0,200.1 L113.7,201.9 L114.4,203.7 L115.1,205.4 L115.8,207.1 L116.5,208.7 L117.2,210.2 L117.9,211.7 L118.6,213.2 L119.3,214.6 L120.0,216.0 L120.7,217.4 L121.4,218.7 L122.1,220.0 L122.8,221.2 L123.5,222.5 L124.2,223.7 L124.9,224.9 L125.6,226.0 L126.3,227.0 L127.0,228.0 L127.7,228.9 L128.4,229.8 L129.1,230.6 L129.8,231.5 L130.5,232.2 L131.2,233.0 L131.9,233.7 L132.6,234.4 L133.3,235.1 L134.0,235.7 L134.7,236.3 L135.4,236.9 L136.1,237.5 L136.8,238.1 L137.5,238.7 L138.2,239.3 L138.9,240.0 L139.6,240.6 L140.3,241.3 L141.0,242.0 L141.7,242.7 L142.0,243.0" fill="none" stroke="#4a949a" stroke-width="0.9" stroke-linejoin="round"/><path d="M87.7,12.9 L88.4,12.6 L89.1,12.3 L89.8,12.2 L90.5,12.0 L91.2,12.0 L91.9,12.1 L92.6,12.2 L93.3,12.4 L94.0,12.6 L94.7,12.8 L95.4,13.1 L96.1,13.3 L96.8,13.5 L97.5,13.8 L98.2,14.0 L98.9,14.3 L99.6,14.6 L100.3,14.9 L101.0,15.2 L101.7,15.6 L102.4,15.9 L103.1,16.4 L103.8,16.9 L104.5,17.4 L105.2,18.1 L105.9,18.7 L106.6,19.4 L107.3,20.1 L108.0,20.8 L108.7,21.4 L109.4,22.1 L110.1,22.8 L110.8,23.6 L111.5,24.4 L112.2,25.4 L112.9,26.4 L113.6,27.7 L114.3,29.1 L115.0,30.6 L115.7,32.1 L116.4,33.8 L117.1,35.4 L117.8,37.1 L118.5,38.8 L119.2,40.6 L119.9,42.5 L120.6,44.4 L121.3,46.4 L122.0,48.5 L122.7,50.7 L123.4,53.0 L124.1,55.4 L124.8,57.8 L125.5,60.3 L126.2,62.9 L126.9,65.4 L127.6,67.9 L128.3,70.3 L129.0,72.9 L129.7,75.4 L130.4,78.1 L131.1,80.9 L131.8,83.9 L132.5,87.3 L133.2,90.9 L133.9,94.7 L134.6,98.5 L135.3,102.2 L136.0,105.7 L136.7,109.0 L137.4,112.1 L138.1,115.1 L138.8,118.1 L139.5,121.0 L140.2,123.9 L140.9,126.9 L141.6,130.0 L142.3,133.2 L143.0,136.5 L143.7,139.7 L144.4,142.9 L145.1,146.1 L145.8,149.2 L146.5,152.1 L147.2,155.0 L147.9,157.8 L148.6,160.5 L149.3,163.2 L150.0,165.8 L150.7,168.3 L151.4,170.8 L152.1,173.3 L152.8,175.7 L153.5,178.0 L154.2,180.2 L154.9,182.3 L155.6,184.4 L156.3,186.4 L157.0,188.4 L157.7,190.3 L158.4,192.2 L159.1,193.9 L159.8,195.5 L160.5,197.1 L161.2,198.6 L161.9,200.0 L162.6,201.4 L163.3,202.7 L164.0,203.9 L164.7,205.1 L165.4,206.3 L166.1,207.4 L166.8,208.5 L167.5,209.6 L168.2,210.6 L168.9,211.5 L169.6,212.4 L170.3,213.3 L171.0,214.2 L171.7,215.0 L172.4,215.8 L173.1,216.6 L173.8,217.3 L174.5,218.1 L175.2,218.8 L175.9,219.4 L176.6,220.0 L177.3,220.6 L178.0,221.2 L178.7,221.8 L179.4,222.4 L180.1,223.0 L180.8,223.5 L181.5,224.0 L182.2,224.5 L182.9,224.9 L183.6,225.3 L184.3,225.7 L185.0,226.0 L185.7,226.3 L186.4,226.6 L187.1,226.9 L187.8,227.2 L188.5,227.5 L189.2,227.8 L189.9,228.1 L190.6,228.4 L191.3,228.7 L192.0,229.0 L192.7,229.2 L193.4,229.4 L194.1,229.6 L194.8,229.8 L195.5,230.0 L196.2,230.2 L196.9,230.4 L197.6,230.5 L198.3,230.7 L199.0,230.8 L199.7,230.9 L200.4,231.0 L201.1,231.2 L201.8,231.3 L202.5,231.4 L203.2,231.5 L203.9,231.6 L204.6,231.8 L205.0,231.8" fill="none" stroke="#4a949a" stroke-width="0.9" stroke-linejoin="round"/><path d="M205,237.2 C230,237.8 250,238 280,238.1 L321,238.1" fill="none" stroke="#6f8f8f" stroke-width="1.1"/></g><rect x="64.0" y="6.4" width="281.2" height="234.3" fill="none" stroke="#858585" stroke-width="1.3"/><circle cx="64.0" cy="121.5" r="0.9" fill="#5a5a32"/><circle cx="69.7" cy="140.3" r="0.9" fill="#5a5a32"/><circle cx="75.5" cy="157.1" r="0.9" fill="#5a5a32"/><circle cx="81.2" cy="172.4" r="0.9" fill="#5a5a32"/><circle cx="86.9" cy="186.5" r="0.9" fill="#5a5a32"/><circle cx="92.7" cy="196.5" r="0.9" fill="#5a5a32"/><circle cx="98.4" cy="204.1" r="0.9" fill="#5a5a32"/><circle cx="104.2" cy="210.0" r="0.9" fill="#5a5a32"/><circle cx="109.9" cy="214.3" r="0.9" fill="#5a5a32"/><circle cx="115.6" cy="216.4" r="0.9" fill="#5a5a32"/><circle cx="121.4" cy="218.1" r="0.9" fill="#5a5a32"/><circle cx="127.1" cy="218.8" r="0.9" fill="#5a5a32"/><circle cx="132.8" cy="219.3" r="0.9" fill="#5a5a32"/><circle cx="138.6" cy="219.6" r="0.9" fill="#5a5a32"/><circle cx="144.3" cy="220.0" r="0.9" fill="#5a5a32"/><circle cx="150.1" cy="220.3" r="0.9" fill="#5a5a32"/><circle cx="155.8" cy="220.5" r="0.9" fill="#5a5a32"/><circle cx="161.5" cy="220.7" r="0.9" fill="#5a5a32"/><circle cx="167.3" cy="220.8" r="0.9" fill="#5a5a32"/><circle cx="173.0" cy="220.8" r="0.9" fill="#5a5a32"/><circle cx="178.7" cy="220.8" r="0.9" fill="#5a5a32"/><circle cx="184.5" cy="220.9" r="0.9" fill="#5a5a32"/><circle cx="190.2" cy="220.9" r="0.9" fill="#5a5a32"/><circle cx="196.0" cy="220.9" r="0.9" fill="#5a5a32"/><circle cx="201.7" cy="220.9" r="0.9" fill="#5a5a32"/><circle cx="207.4" cy="221.0" r="0.9" fill="#5a5a32"/><circle cx="213.2" cy="221.0" r="0.9" fill="#5a5a32"/><circle cx="218.9" cy="221.0" r="0.9" fill="#5a5a32"/><circle cx="224.6" cy="221.0" r="0.9" fill="#5a5a32"/><circle cx="230.4" cy="221.0" r="0.9" fill="#5a5a32"/><circle cx="236.1" cy="221.1" r="0.9" fill="#5a5a32"/><circle cx="241.9" cy="221.1" r="0.9" fill="#5a5a32"/><circle cx="247.6" cy="221.1" r="0.9" fill="#5a5a32"/><circle cx="253.3" cy="221.1" r="0.9" fill="#5a5a32"/><circle cx="259.1" cy="221.1" r="0.9" fill="#5a5a32"/><circle cx="264.8" cy="221.1" r="0.9" fill="#5a5a32"/><circle cx="270.5" cy="221.1" r="0.9" fill="#5a5a32"/><circle cx="276.3" cy="221.2" r="0.9" fill="#5a5a32"/><circle cx="282.0" cy="221.2" r="0.9" fill="#5a5a32"/><circle cx="287.7" cy="221.2" r="0.9" fill="#5a5a32"/><circle cx="293.5" cy="221.2" r="0.9" fill="#5a5a32"/><circle cx="299.2" cy="221.2" r="0.9" fill="#5a5a32"/><circle cx="305.0" cy="221.2" r="0.9" fill="#5a5a32"/><circle cx="310.7" cy="221.2" r="0.9" fill="#5a5a32"/><circle cx="86.9" cy="43.3" r="0.9" fill="#5a5a32"/><circle cx="91.7" cy="51.8" r="0.9" fill="#5a5a32"/><circle cx="96.5" cy="64.2" r="0.9" fill="#5a5a32"/><circle cx="101.3" cy="78.5" r="0.9" fill="#5a5a32"/><circle cx="106.1" cy="99.0" r="0.9" fill="#5a5a32"/><circle cx="111.0" cy="121.1" r="0.9" fill="#5a5a32"/><circle cx="115.8" cy="142.4" r="0.9" fill="#5a5a32"/><circle cx="120.6" cy="162.5" r="0.9" fill="#5a5a32"/><circle cx="125.4" cy="179.6" r="0.9" fill="#5a5a32"/><circle cx="130.2" cy="193.2" r="0.9" fill="#5a5a32"/><circle cx="135.0" cy="203.9" r="0.9" fill="#5a5a32"/><circle cx="139.8" cy="213.0" r="0.9" fill="#5a5a32"/><circle cx="144.6" cy="219.1" r="0.9" fill="#5a5a32"/><circle cx="149.4" cy="223.1" r="0.9" fill="#5a5a32"/><circle cx="154.2" cy="226.5" r="0.9" fill="#5a5a32"/><circle cx="159.1" cy="228.8" r="0.9" fill="#5a5a32"/><circle cx="163.9" cy="230.5" r="0.9" fill="#5a5a32"/><circle cx="168.7" cy="232.3" r="0.9" fill="#5a5a32"/><circle cx="173.5" cy="233.5" r="0.9" fill="#5a5a32"/><circle cx="178.3" cy="234.2" r="0.9" fill="#5a5a32"/><circle cx="183.1" cy="235.0" r="0.9" fill="#5a5a32"/><circle cx="187.9" cy="235.8" r="0.9" fill="#5a5a32"/><circle cx="192.7" cy="236.4" r="0.9" fill="#5a5a32"/><circle cx="197.5" cy="236.8" r="0.9" fill="#5a5a32"/><circle cx="202.3" cy="237.0" r="0.9" fill="#5a5a32"/><circle cx="207.1" cy="237.2" r="0.9" fill="#5a5a32"/><circle cx="212.0" cy="237.3" r="0.9" fill="#5a5a32"/><circle cx="216.8" cy="237.4" r="0.9" fill="#5a5a32"/><circle cx="221.6" cy="237.5" r="0.9" fill="#5a5a32"/><circle cx="226.4" cy="237.5" r="0.9" fill="#5a5a32"/><circle cx="231.2" cy="237.6" r="0.9" fill="#5a5a32"/><circle cx="236.0" cy="237.6" r="0.9" fill="#5a5a32"/><circle cx="240.8" cy="237.7" r="0.9" fill="#5a5a32"/><circle cx="245.6" cy="237.7" r="0.9" fill="#5a5a32"/><circle cx="250.4" cy="237.7" r="0.9" fill="#5a5a32"/><circle cx="255.2" cy="237.8" r="0.9" fill="#5a5a32"/><circle cx="260.1" cy="237.8" r="0.9" fill="#5a5a32"/><circle cx="264.9" cy="237.8" r="0.9" fill="#5a5a32"/><circle cx="269.7" cy="237.8" r="0.9" fill="#5a5a32"/><circle cx="274.5" cy="237.9" r="0.9" fill="#5a5a32"/><circle cx="279.3" cy="237.9" r="0.9" fill="#5a5a32"/><circle cx="284.1" cy="237.9" r="0.9" fill="#5a5a32"/><circle cx="288.9" cy="237.9" r="0.9" fill="#5a5a32"/><circle cx="293.7" cy="237.9" r="0.9" fill="#5a5a32"/><circle cx="298.5" cy="238.0" r="0.9" fill="#5a5a32"/><circle cx="303.4" cy="238.0" r="0.9" fill="#5a5a32"/><circle cx="308.2" cy="238.0" r="0.9" fill="#5a5a32"/><rect x="62.4" y="53.2" width="3.3" height="3.3" fill="#777777"/><rect x="68.1" y="71.9" width="3.3" height="3.3" fill="#777777"/><rect x="73.8" y="90.4" width="3.3" height="3.3" fill="#777777"/><rect x="79.6" y="107.1" width="3.3" height="3.3" fill="#777777"/><rect x="85.3" y="125.3" width="3.3" height="3.3" fill="#777777"/><rect x="91.0" y="141.2" width="3.3" height="3.3" fill="#777777"/><rect x="96.8" y="155.3" width="3.3" height="3.3" fill="#777777"/><rect x="102.5" y="166.6" width="3.3" height="3.3" fill="#777777"/><rect x="108.2" y="175.7" width="3.3" height="3.3" fill="#777777"/><rect x="114.0" y="183.2" width="3.3" height="3.3" fill="#777777"/><rect x="119.7" y="187.5" width="3.3" height="3.3" fill="#777777"/><rect x="125.5" y="190.7" width="3.3" height="3.3" fill="#777777"/><rect x="131.2" y="192.6" width="3.3" height="3.3" fill="#777777"/><rect x="136.9" y="193.8" width="3.3" height="3.3" fill="#777777"/><rect x="142.7" y="194.6" width="3.3" height="3.3" fill="#777777"/><rect x="148.4" y="195.5" width="3.3" height="3.3" fill="#777777"/><rect x="154.1" y="196.0" width="3.3" height="3.3" fill="#777777"/><rect x="159.9" y="196.4" width="3.3" height="3.3" fill="#777777"/><rect x="165.6" y="196.4" width="3.3" height="3.3" fill="#777777"/><rect x="171.4" y="196.5" width="3.3" height="3.3" fill="#777777"/><rect x="177.1" y="196.6" width="3.3" height="3.3" fill="#777777"/><rect x="182.8" y="196.6" width="3.3" height="3.3" fill="#777777"/><rect x="188.6" y="196.6" width="3.3" height="3.3" fill="#777777"/><rect x="194.3" y="196.6" width="3.3" height="3.3" fill="#777777"/><rect x="200.0" y="196.7" width="3.3" height="3.3" fill="#777777"/><rect x="205.8" y="196.7" width="3.3" height="3.3" fill="#777777"/><rect x="211.5" y="196.7" width="3.3" height="3.3" fill="#777777"/><rect x="217.3" y="196.7" width="3.3" height="3.3" fill="#777777"/><rect x="223.0" y="196.7" width="3.3" height="3.3" fill="#777777"/><rect x="228.7" y="196.7" width="3.3" height="3.3" fill="#777777"/><rect x="234.5" y="196.7" width="3.3" height="3.3" fill="#777777"/><rect x="240.2" y="196.7" width="3.3" height="3.3" fill="#777777"/><rect x="245.9" y="196.7" width="3.3" height="3.3" fill="#777777"/><rect x="251.7" y="196.7" width="3.3" height="3.3" fill="#777777"/><rect x="257.4" y="196.7" width="3.3" height="3.3" fill="#777777"/><rect x="263.1" y="196.7" width="3.3" height="3.3" fill="#777777"/><rect x="268.9" y="196.7" width="3.3" height="3.3" fill="#777777"/><rect x="274.6" y="196.7" width="3.3" height="3.3" fill="#777777"/><rect x="280.4" y="196.7" width="3.3" height="3.3" fill="#777777"/><rect x="286.1" y="196.7" width="3.3" height="3.3" fill="#777777"/><rect x="291.8" y="196.7" width="3.3" height="3.3" fill="#777777"/><rect x="297.6" y="196.7" width="3.3" height="3.3" fill="#777777"/><rect x="303.3" y="196.7" width="3.3" height="3.3" fill="#777777"/><rect x="309.0" y="196.7" width="3.3" height="3.3" fill="#777777"/><rect x="314.8" y="196.7" width="3.3" height="3.3" fill="#777777"/><rect x="320.5" y="196.9" width="3.3" height="3.3" fill="#777777"/><rect x="326.3" y="197.8" width="3.3" height="3.3" fill="#777777"/><rect x="332.0" y="198.5" width="3.3" height="3.3" fill="#777777"/><rect x="85.2" y="28.7" width="3.3" height="3.3" fill="#777777"/><rect x="90.1" y="29.8" width="3.3" height="3.3" fill="#777777"/><rect x="94.9" y="34.3" width="3.3" height="3.3" fill="#777777"/><rect x="99.7" y="41.4" width="3.3" height="3.3" fill="#777777"/><rect x="104.5" y="52.7" width="3.3" height="3.3" fill="#777777"/><rect x="109.3" y="68.6" width="3.3" height="3.3" fill="#777777"/><rect x="114.1" y="86.7" width="3.3" height="3.3" fill="#777777"/><rect x="118.9" y="108.7" width="3.3" height="3.3" fill="#777777"/><rect x="123.7" y="130.5" width="3.3" height="3.3" fill="#777777"/><rect x="128.5" y="150.9" width="3.3" height="3.3" fill="#777777"/><rect x="133.3" y="169.1" width="3.3" height="3.3" fill="#777777"/><rect x="138.2" y="184.9" width="3.3" height="3.3" fill="#777777"/><rect x="143.0" y="196.2" width="3.3" height="3.3" fill="#777777"/><rect x="147.8" y="206.8" width="3.3" height="3.3" fill="#777777"/><rect x="152.6" y="215.0" width="3.3" height="3.3" fill="#777777"/><rect x="157.4" y="220.2" width="3.3" height="3.3" fill="#777777"/><rect x="162.2" y="223.6" width="3.3" height="3.3" fill="#777777"/><rect x="167.0" y="226.9" width="3.3" height="3.3" fill="#777777"/><rect x="171.8" y="229.0" width="3.3" height="3.3" fill="#777777"/><rect x="176.6" y="231.8" width="3.3" height="3.3" fill="#777777"/><rect x="181.4" y="233.4" width="3.3" height="3.3" fill="#777777"/><rect x="186.3" y="234.1" width="3.3" height="3.3" fill="#777777"/><rect x="191.1" y="234.5" width="3.3" height="3.3" fill="#777777"/><rect x="195.9" y="234.8" width="3.3" height="3.3" fill="#777777"/><rect x="200.7" y="234.8" width="3.3" height="3.3" fill="#777777"/><rect x="205.5" y="234.9" width="3.3" height="3.3" fill="#777777"/><rect x="210.3" y="234.9" width="3.3" height="3.3" fill="#777777"/><rect x="215.1" y="234.9" width="3.3" height="3.3" fill="#777777"/><rect x="219.9" y="234.9" width="3.3" height="3.3" fill="#777777"/><rect x="224.7" y="234.9" width="3.3" height="3.3" fill="#777777"/><rect x="229.5" y="234.9" width="3.3" height="3.3" fill="#777777"/><rect x="234.4" y="234.9" width="3.3" height="3.3" fill="#777777"/><rect x="239.2" y="234.9" width="3.3" height="3.3" fill="#777777"/><rect x="244.0" y="234.8" width="3.3" height="3.3" fill="#777777"/><rect x="248.8" y="234.7" width="3.3" height="3.3" fill="#777777"/><rect x="253.6" y="234.5" width="3.3" height="3.3" fill="#777777"/><rect x="258.4" y="233.8" width="3.3" height="3.3" fill="#777777"/><rect x="263.2" y="233.1" width="3.3" height="3.3" fill="#777777"/><rect x="268.0" y="231.8" width="3.3" height="3.3" fill="#777777"/><rect x="272.8" y="230.5" width="3.3" height="3.3" fill="#777777"/><rect x="277.6" y="228.2" width="3.3" height="3.3" fill="#777777"/><rect x="282.5" y="225.2" width="3.3" height="3.3" fill="#777777"/><rect x="287.3" y="220.6" width="3.3" height="3.3" fill="#777777"/><rect x="292.1" y="215.6" width="3.3" height="3.3" fill="#777777"/><rect x="296.9" y="209.5" width="3.3" height="3.3" fill="#777777"/><circle cx="64.0" cy="29.0" r="1.9" fill="#e6891c"/><circle cx="69.7" cy="47.5" r="1.9" fill="#e6891c"/><circle cx="75.5" cy="67.1" r="1.9" fill="#e6891c"/><circle cx="81.2" cy="85.0" r="1.9" fill="#e6891c"/><circle cx="86.9" cy="103.6" r="1.9" fill="#e6891c"/><circle cx="92.7" cy="122.4" r="1.9" fill="#e6891c"/><circle cx="98.4" cy="139.8" r="1.9" fill="#e6891c"/><circle cx="104.2" cy="157.9" r="1.9" fill="#e6891c"/><circle cx="109.9" cy="172.5" r="1.9" fill="#e6891c"/><circle cx="115.6" cy="185.3" r="1.9" fill="#e6891c"/><circle cx="121.4" cy="197.8" r="1.9" fill="#e6891c"/><circle cx="127.1" cy="207.1" r="1.9" fill="#e6891c"/><circle cx="132.8" cy="214.0" r="1.9" fill="#e6891c"/><circle cx="138.6" cy="218.7" r="1.9" fill="#e6891c"/><circle cx="144.3" cy="221.0" r="1.9" fill="#e6891c"/><circle cx="150.1" cy="223.9" r="1.9" fill="#e6891c"/><circle cx="155.8" cy="225.3" r="1.9" fill="#e6891c"/><circle cx="161.5" cy="226.2" r="1.9" fill="#e6891c"/><circle cx="167.3" cy="227.2" r="1.9" fill="#e6891c"/><circle cx="173.0" cy="227.8" r="1.9" fill="#e6891c"/><circle cx="178.7" cy="228.3" r="1.9" fill="#e6891c"/><circle cx="184.5" cy="228.5" r="1.9" fill="#e6891c"/><circle cx="190.2" cy="228.7" r="1.9" fill="#e6891c"/><circle cx="196.0" cy="228.8" r="1.9" fill="#e6891c"/><circle cx="201.7" cy="228.9" r="1.9" fill="#e6891c"/><circle cx="207.4" cy="229.0" r="1.9" fill="#e6891c"/><circle cx="213.2" cy="229.0" r="1.9" fill="#e6891c"/><circle cx="218.9" cy="229.1" r="1.9" fill="#e6891c"/><circle cx="224.6" cy="229.2" r="1.9" fill="#e6891c"/><circle cx="230.4" cy="229.2" r="1.9" fill="#e6891c"/><circle cx="236.1" cy="229.3" r="1.9" fill="#e6891c"/><circle cx="241.9" cy="229.3" r="1.9" fill="#e6891c"/><circle cx="247.6" cy="229.4" r="1.9" fill="#e6891c"/><circle cx="253.3" cy="229.4" r="1.9" fill="#e6891c"/><circle cx="259.1" cy="229.5" r="1.9" fill="#e6891c"/><circle cx="264.8" cy="229.5" r="1.9" fill="#e6891c"/><circle cx="270.5" cy="229.6" r="1.9" fill="#e6891c"/><circle cx="276.3" cy="229.6" r="1.9" fill="#e6891c"/><circle cx="282.0" cy="229.7" r="1.9" fill="#e6891c"/><circle cx="287.7" cy="229.7" r="1.9" fill="#e6891c"/><circle cx="293.5" cy="229.7" r="1.9" fill="#e6891c"/><circle cx="299.2" cy="229.8" r="1.9" fill="#e6891c"/><circle cx="305.0" cy="229.8" r="1.9" fill="#e6891c"/><circle cx="310.7" cy="229.8" r="1.9" fill="#e6891c"/><circle cx="316.4" cy="229.8" r="1.9" fill="#e6891c"/><circle cx="322.2" cy="228.7" r="1.9" fill="#e6891c"/><circle cx="327.9" cy="227.2" r="1.9" fill="#e6891c"/><circle cx="333.6" cy="224.8" r="1.9" fill="#e6891c"/><circle cx="339.4" cy="220.6" r="1.9" fill="#e6891c"/><circle cx="86.9" cy="30.3" r="1.9" fill="#e6891c"/><circle cx="91.7" cy="26.1" r="1.9" fill="#e6891c"/><circle cx="96.5" cy="24.6" r="1.9" fill="#e6891c"/><circle cx="101.3" cy="25.7" r="1.9" fill="#e6891c"/><circle cx="106.1" cy="28.8" r="1.9" fill="#e6891c"/><circle cx="111.0" cy="34.1" r="1.9" fill="#e6891c"/><circle cx="115.8" cy="42.5" r="1.9" fill="#e6891c"/><circle cx="120.6" cy="56.2" r="1.9" fill="#e6891c"/><circle cx="125.4" cy="71.7" r="1.9" fill="#e6891c"/><circle cx="130.2" cy="90.6" r="1.9" fill="#e6891c"/><circle cx="135.0" cy="110.8" r="1.9" fill="#e6891c"/><circle cx="139.8" cy="132.3" r="1.9" fill="#e6891c"/><circle cx="144.6" cy="151.8" r="1.9" fill="#e6891c"/><circle cx="149.4" cy="171.0" r="1.9" fill="#e6891c"/><circle cx="154.2" cy="187.2" r="1.9" fill="#e6891c"/><circle cx="159.1" cy="198.5" r="1.9" fill="#e6891c"/><circle cx="163.9" cy="208.1" r="1.9" fill="#e6891c"/><circle cx="168.7" cy="215.1" r="1.9" fill="#e6891c"/><circle cx="173.5" cy="220.6" r="1.9" fill="#e6891c"/><circle cx="178.3" cy="225.0" r="1.9" fill="#e6891c"/><circle cx="183.1" cy="227.9" r="1.9" fill="#e6891c"/><circle cx="187.9" cy="230.0" r="1.9" fill="#e6891c"/><circle cx="192.7" cy="231.8" r="1.9" fill="#e6891c"/><circle cx="197.5" cy="233.1" r="1.9" fill="#e6891c"/><circle cx="202.3" cy="234.9" r="1.9" fill="#e6891c"/><circle cx="207.1" cy="236.4" r="1.9" fill="#e6891c"/><circle cx="212.0" cy="237.1" r="1.9" fill="#e6891c"/><circle cx="216.8" cy="237.1" r="1.9" fill="#e6891c"/><circle cx="221.6" cy="237.1" r="1.9" fill="#e6891c"/><circle cx="226.4" cy="237.1" r="1.9" fill="#e6891c"/><circle cx="231.2" cy="237.1" r="1.9" fill="#e6891c"/><circle cx="236.0" cy="237.2" r="1.9" fill="#e6891c"/><circle cx="240.8" cy="237.2" r="1.9" fill="#e6891c"/><circle cx="245.6" cy="237.2" r="1.9" fill="#e6891c"/><circle cx="250.4" cy="237.2" r="1.9" fill="#e6891c"/><circle cx="255.2" cy="237.2" r="1.9" fill="#e6891c"/><circle cx="260.1" cy="237.9" r="1.9" fill="#e6891c"/><circle cx="264.9" cy="238.3" r="1.9" fill="#e6891c"/><circle cx="269.7" cy="239.7" r="1.9" fill="#e6891c"/><circle cx="274.5" cy="240.7" r="1.9" fill="#e6891c"/><path d="M64.0,41.9 L65.7,45.0 L62.4,45.0 Z" fill="#1c5f6b"/><path d="M69.7,61.0 L71.4,64.1 L68.1,64.1 Z" fill="#1c5f6b"/><path d="M75.5,80.6 L77.1,83.7 L73.8,83.7 Z" fill="#1c5f6b"/><path d="M81.2,99.8 L82.9,102.9 L79.6,102.9 Z" fill="#1c5f6b"/><path d="M86.9,118.3 L88.6,121.4 L85.3,121.4 Z" fill="#1c5f6b"/><path d="M92.7,137.4 L94.3,140.5 L91.0,140.5 Z" fill="#1c5f6b"/><path d="M98.4,155.8 L100.1,158.9 L96.8,158.9 Z" fill="#1c5f6b"/><path d="M104.2,173.9 L105.8,177.0 L102.5,177.0 Z" fill="#1c5f6b"/><path d="M109.9,190.0 L111.5,193.1 L108.2,193.1 Z" fill="#1c5f6b"/><path d="M115.6,204.9 L117.3,208.0 L114.0,208.0 Z" fill="#1c5f6b"/><path d="M121.4,216.8 L123.0,220.0 L119.7,220.0 Z" fill="#1c5f6b"/><path d="M127.1,226.3 L128.8,229.5 L125.5,229.5 Z" fill="#1c5f6b"/><path d="M132.8,232.8 L134.5,236.0 L131.2,236.0 Z" fill="#1c5f6b"/><path d="M138.6,237.9 L140.2,241.0 L136.9,241.0 Z" fill="#1c5f6b"/><rect x="85.1" y="28.5" width="3.6" height="3.6" fill="#e6891c"/><path d="M86.9,14.4 L88.6,17.5 L85.2,17.5 Z" fill="#1c5f6b"/><path d="M91.7,12.5 L93.4,15.6 L90.1,15.6 Z" fill="#1c5f6b"/><path d="M96.5,13.0 L98.2,16.2 L94.9,16.2 Z" fill="#1c5f6b"/><path d="M101.3,14.3 L103.0,17.4 L99.7,17.4 Z" fill="#1c5f6b"/><path d="M106.1,18.1 L107.8,21.3 L104.5,21.3 Z" fill="#1c5f6b"/><path d="M111.0,23.2 L112.6,26.3 L109.3,26.3 Z" fill="#1c5f6b"/><path d="M115.8,32.8 L117.4,35.9 L114.1,35.9 Z" fill="#1c5f6b"/><path d="M120.6,45.4 L122.2,48.5 L118.9,48.5 Z" fill="#1c5f6b"/><path d="M125.4,61.7 L127.0,64.8 L123.7,64.8 Z" fill="#1c5f6b"/><path d="M130.2,79.5 L131.8,82.6 L128.5,82.6 Z" fill="#1c5f6b"/><path d="M135.0,103.9 L136.7,107.0 L133.3,107.0 Z" fill="#1c5f6b"/><path d="M139.8,124.7 L141.5,127.9 L138.2,127.9 Z" fill="#1c5f6b"/><path d="M144.6,146.6 L146.3,149.7 L143.0,149.7 Z" fill="#1c5f6b"/><path d="M149.4,165.6 L151.1,168.7 L147.8,168.7 Z" fill="#1c5f6b"/><path d="M154.2,181.5 L155.9,184.6 L152.6,184.6 Z" fill="#1c5f6b"/><path d="M159.1,193.7 L160.7,196.9 L157.4,196.9 Z" fill="#1c5f6b"/><path d="M163.9,202.8 L165.5,205.9 L162.2,205.9 Z" fill="#1c5f6b"/><path d="M168.7,209.8 L170.3,212.9 L167.0,212.9 Z" fill="#1c5f6b"/><path d="M173.5,215.3 L175.1,218.4 L171.8,218.4 Z" fill="#1c5f6b"/><path d="M178.3,219.7 L179.9,222.8 L176.6,222.8 Z" fill="#1c5f6b"/><path d="M183.1,223.2 L184.8,226.4 L181.4,226.4 Z" fill="#1c5f6b"/><path d="M187.9,225.5 L189.6,228.6 L186.3,228.6 Z" fill="#1c5f6b"/><path d="M192.7,227.4 L194.4,230.5 L191.1,230.5 Z" fill="#1c5f6b"/><path d="M197.5,228.7 L199.2,231.8 L195.9,231.8 Z" fill="#1c5f6b"/><path d="M202.3,229.5 L204.0,232.7 L200.7,232.7 Z" fill="#1c5f6b"/><path d="M207.1,230.2 L208.8,233.3 L205.5,233.3 Z" fill="#1c5f6b"/><path d="M212.0,229.8 L213.6,232.9 L210.3,232.9 Z" fill="#1c5f6b"/><path d="M216.8,229.7 L218.4,232.8 L215.1,232.8 Z" fill="#1c5f6b"/><path d="M221.6,229.6 L223.2,232.7 L219.9,232.7 Z" fill="#1c5f6b"/><path d="M226.4,228.9 L228.0,232.1 L224.7,232.1 Z" fill="#1c5f6b"/><path d="M231.2,228.0 L232.8,231.1 L229.5,231.1 Z" fill="#1c5f6b"/><path d="M236.0,227.0 L237.7,230.2 L234.4,230.2 Z" fill="#1c5f6b"/><path d="M240.8,226.4 L242.5,229.6 L239.2,229.6 Z" fill="#1c5f6b"/><path d="M245.6,225.4 L247.3,228.5 L244.0,228.5 Z" fill="#1c5f6b"/><path d="M250.4,224.3 L252.1,227.4 L248.8,227.4 Z" fill="#1c5f6b"/><path d="M255.2,223.8 L256.9,226.9 L253.6,226.9 Z" fill="#1c5f6b"/><path d="M260.1,223.8 L261.7,226.9 L258.4,226.9 Z" fill="#1c5f6b"/><path d="M264.9,224.5 L266.5,227.6 L263.2,227.6 Z" fill="#1c5f6b"/><path d="M269.7,226.0 L271.3,229.2 L268.0,229.2 Z" fill="#1c5f6b"/><path d="M274.5,228.6 L276.1,231.7 L272.8,231.7 Z" fill="#1c5f6b"/><path d="M279.3,232.0 L280.9,235.2 L277.6,235.2 Z" fill="#1c5f6b"/><path d="M284.1,236.8 L285.8,239.9 L282.5,239.9 Z" fill="#1c5f6b"/><text x="-0.6" y="36.8" font-size="31.5" text-anchor="start" font-weight="bold" font-style="normal" fill="#111" >(a)</text><text x="39.5" y="11.7" font-size="12.6" text-anchor="start" font-weight="normal" font-style="normal" fill="#1a1a1a" >10</text><text x="52.7" y="6.7" font-size="8.8" text-anchor="start" font-weight="normal" font-style="normal" fill="#1a1a1a" >3</text><text x="40.1" y="158.2" font-size="12.6" text-anchor="start" font-weight="normal" font-style="normal" fill="#1a1a1a" >10</text><text x="53.3" y="153.2" font-size="8.8" text-anchor="start" font-weight="normal" font-style="normal" fill="#1a1a1a" >2</text><text x="51.1" y="256.9" font-size="12.6" text-anchor="start" font-weight="normal" font-style="normal" fill="#1a1a1a" >10</text><rect x="64.5" y="248.7" width="6.5" height="0.9" fill="#1a1a1a"/><text x="71.6" y="251.9" font-size="8.8" text-anchor="start" font-weight="normal" font-style="normal" fill="#1a1a1a" >2</text><text x="91.3" y="256.9" font-size="12.6" text-anchor="start" font-weight="normal" font-style="normal" fill="#1a1a1a" >10</text><rect x="104.7" y="248.7" width="6.5" height="0.9" fill="#1a1a1a"/><text x="111.8" y="251.9" font-size="8.8" text-anchor="start" font-weight="normal" font-style="normal" fill="#1a1a1a" >1</text><text x="135.1" y="256.9" font-size="12.6" text-anchor="start" font-weight="normal" font-style="normal" fill="#1a1a1a" >10</text><text x="148.3" y="251.9" font-size="8.8" text-anchor="start" font-weight="normal" font-style="normal" fill="#1a1a1a" >0</text><text x="175.3" y="256.9" font-size="12.6" text-anchor="start" font-weight="normal" font-style="normal" fill="#1a1a1a" >10</text><text x="188.5" y="251.9" font-size="8.8" text-anchor="start" font-weight="normal" font-style="normal" fill="#1a1a1a" >1</text><text x="215.4" y="256.9" font-size="12.6" text-anchor="start" font-weight="normal" font-style="normal" fill="#1a1a1a" >10</text><text x="228.6" y="251.9" font-size="8.8" text-anchor="start" font-weight="normal" font-style="normal" fill="#1a1a1a" >2</text><text x="255.6" y="256.9" font-size="12.6" text-anchor="start" font-weight="normal" font-style="normal" fill="#1a1a1a" >10</text><text x="268.8" y="251.9" font-size="8.8" text-anchor="start" font-weight="normal" font-style="normal" fill="#1a1a1a" >3</text><text x="295.8" y="256.9" font-size="12.6" text-anchor="start" font-weight="normal" font-style="normal" fill="#1a1a1a" >10</text><text x="309.0" y="251.9" font-size="8.8" text-anchor="start" font-weight="normal" font-style="normal" fill="#1a1a1a" >4</text><text x="335.9" y="256.9" font-size="12.6" text-anchor="start" font-weight="normal" font-style="normal" fill="#1a1a1a" >10</text><text x="349.1" y="251.9" font-size="8.8" text-anchor="start" font-weight="normal" font-style="normal" fill="#1a1a1a" >5</text><text x="350.0" y="242.4" font-size="12.8" text-anchor="start" font-weight="normal" font-style="normal" fill="#1a1a1a" >0</text><text x="350.0" y="184.4" font-size="12.8" text-anchor="start" font-weight="normal" font-style="normal" fill="#1a1a1a" >20</text><text x="350.0" y="126.4" font-size="12.8" text-anchor="start" font-weight="normal" font-style="normal" fill="#1a1a1a" >40</text><text x="350.0" y="68.4" font-size="12.8" text-anchor="start" font-weight="normal" font-style="normal" fill="#1a1a1a" >60</text><text x="350.0" y="10.4" font-size="12.8" text-anchor="start" font-weight="normal" font-style="normal" fill="#1a1a1a" >80</text><text x="203.8" y="276.6" font-size="14.5" text-anchor="middle" font-weight="normal" font-style="normal" fill="#1a1a1a" textLength="36.5" lengthAdjust="spacingAndGlyphs"><tspan font-style="italic">f</tspan> (Hz)</text><g transform="rotate(-90)"><text x="-164.8" y="27.2" font-size="14.5" font-style="italic" textLength="10.2" lengthAdjust="spacingAndGlyphs" fill="#1a1a1a">Z</text><text x="-154.8" y="29.6" font-size="10.8" textLength="20.1" lengthAdjust="spacingAndGlyphs" fill="#1a1a1a">mod</text><text x="-129.0" y="26.6" font-size="14.5" fill="#1a1a1a">(</text><text x="-123.7" y="27.2" font-size="14.5" textLength="9.5" lengthAdjust="spacingAndGlyphs" fill="#1a1a1a">&#937;</text><text x="-110.8" y="27.2" font-size="14.5" textLength="16.2" lengthAdjust="spacingAndGlyphs" fill="#1a1a1a">cm</text><text x="-94.9" y="21.0" font-size="10.2" textLength="6.2" lengthAdjust="spacingAndGlyphs" fill="#1a1a1a">2</text><text x="-88.7" y="26.6" font-size="14.5" fill="#1a1a1a">)</text></g><text x="238.1" y="17.8" font-size="10.4" text-anchor="start" font-weight="normal" font-style="normal" fill="#1a1a1a" textLength="67.3" lengthAdjust="spacingAndGlyphs" stroke="#1a1a1a" stroke-width="0.08">after 30 days</text><rect x="255.7" y="97.4" width="3.6" height="3.6" fill="#777777"/><text x="262.4" y="102.4" font-size="12.5" text-anchor="start" font-weight="normal" font-style="normal" fill="#1a1a1a" textLength="46" lengthAdjust="spacingAndGlyphs">bare Mo</text><circle cx="257.5" cy="115.6" r="0.9" fill="#5a5a32"/><text x="262.4" y="118.8" font-size="12.5" text-anchor="start" font-weight="normal" font-style="normal" fill="#1a1a1a" textLength="35.5" lengthAdjust="spacingAndGlyphs">Mo/Pt</text><circle cx="257.5" cy="132.3" r="2.0" fill="#e6891c"/><text x="262.4" y="135.5" font-size="12.5" text-anchor="start" font-weight="normal" font-style="normal" fill="#1a1a1a" textLength="32.5" lengthAdjust="spacingAndGlyphs">Mo-G</text><path d="M257.5,147.0 L259.3,150.4 L255.7,150.4 Z" fill="#1c5f6b"/><text x="262.4" y="152.2" font-size="12.5" text-anchor="start" font-weight="normal" font-style="normal" fill="#1a1a1a" textLength="52" lengthAdjust="spacingAndGlyphs">Mo/Pt-G</text>
<path d="M440.2,241.0 v-5.5 M440.2,5.2 v5.5 M449.3,241.0 v-3.6 M449.3,5.2 v3.6 M458.5,241.0 v-3.6 M458.5,5.2 v3.6 M467.6,241.0 v-3.6 M467.6,5.2 v3.6 M476.8,241.0 v-3.6 M476.8,5.2 v3.6 M485.9,241.0 v-5.5 M485.9,5.2 v5.5 M495.1,241.0 v-3.6 M495.1,5.2 v3.6 M504.2,241.0 v-3.6 M504.2,5.2 v3.6 M513.3,241.0 v-3.6 M513.3,5.2 v3.6 M522.5,241.0 v-3.6 M522.5,5.2 v3.6 M531.6,241.0 v-5.5 M531.6,5.2 v5.5 M540.8,241.0 v-3.6 M540.8,5.2 v3.6 M549.9,241.0 v-3.6 M549.9,5.2 v3.6 M559.1,241.0 v-3.6 M559.1,5.2 v3.6 M568.2,241.0 v-3.6 M568.2,5.2 v3.6 M577.4,241.0 v-5.5 M577.4,5.2 v5.5 M586.5,241.0 v-3.6 M586.5,5.2 v3.6 M595.6,241.0 v-3.6 M595.6,5.2 v3.6 M604.8,241.0 v-3.6 M604.8,5.2 v3.6 M613.9,241.0 v-3.6 M613.9,5.2 v3.6 M623.1,241.0 v-5.5 M623.1,5.2 v5.5 M632.2,241.0 v-3.6 M632.2,5.2 v3.6 M641.4,241.0 v-3.6 M641.4,5.2 v3.6 M650.5,241.0 v-3.6 M650.5,5.2 v3.6 M659.6,241.0 v-3.6 M659.6,5.2 v3.6 M668.8,241.0 v-5.5 M668.8,5.2 v5.5 M677.9,241.0 v-3.6 M677.9,5.2 v3.6 M687.1,241.0 v-3.6 M687.1,5.2 v3.6 M696.2,241.0 v-3.6 M696.2,5.2 v3.6 M705.4,241.0 v-3.6 M705.4,5.2 v3.6 M714.5,241.0 v-5.5 M714.5,5.2 v5.5 M440.2,241.0 h5.5 M714.5,241.0 h-5.5 M440.2,229.2 h3.6 M714.5,229.2 h-3.6 M440.2,217.4 h3.6 M714.5,217.4 h-3.6 M440.2,205.6 h3.6 M714.5,205.6 h-3.6 M440.2,193.8 h3.6 M714.5,193.8 h-3.6 M440.2,182.1 h5.5 M714.5,182.1 h-5.5 M440.2,170.3 h3.6 M714.5,170.3 h-3.6 M440.2,158.5 h3.6 M714.5,158.5 h-3.6 M440.2,146.7 h3.6 M714.5,146.7 h-3.6 M440.2,134.9 h3.6 M714.5,134.9 h-3.6 M440.2,123.1 h5.5 M714.5,123.1 h-5.5 M440.2,111.3 h3.6 M714.5,111.3 h-3.6 M440.2,99.5 h3.6 M714.5,99.5 h-3.6 M440.2,87.7 h3.6 M714.5,87.7 h-3.6 M440.2,75.9 h3.6 M714.5,75.9 h-3.6 M440.2,64.1 h5.5 M714.5,64.1 h-5.5 M440.2,52.4 h3.6 M714.5,52.4 h-3.6 M440.2,40.6 h3.6 M714.5,40.6 h-3.6 M440.2,28.8 h3.6 M714.5,28.8 h-3.6 M440.2,17.0 h3.6 M714.5,17.0 h-3.6 M440.2,5.2 h5.5 M714.5,5.2 h-5.5" stroke="#a8a8a8" stroke-width="0.8" fill="none"/><g clip-path="url(#cb)"><path d="M440.2,169.8 C441.7,170.8 446.3,173.8 449.3,176.0 C452.4,178.2 450.9,181.2 458.5,183.3 C466.1,185.4 487.4,187.1 495.1,188.4 C502.7,189.7 501.2,190.5 504.2,191.0 C507.3,191.5 508.8,189.9 513.3,191.5 C517.9,193.1 527.1,198.8 531.6,200.6 C536.2,202.4 534.7,203.3 540.8,202.6 C546.9,201.9 562.1,197.0 568.2,196.6 C574.3,196.2 574.3,199.8 577.4,200.0 C580.4,200.2 581.9,196.0 586.5,197.6 C591.1,199.2 597.2,209.9 604.8,209.4 C612.4,208.9 624.6,197.6 632.2,194.6 C639.8,191.6 644.4,190.4 650.5,191.6 C656.6,192.8 661.2,201.5 668.8,202.0 C676.4,202.5 690.1,196.3 696.2,194.4 C702.3,192.5 702.3,190.6 705.4,190.6 C705.7,194.2 707.9,194.6 714.5,194.6" fill="none" stroke="#647c7c" stroke-width="1.1"/><path d="M440.2,49.2 C441.7,51.8 446.3,61.6 449.3,65.0 C452.4,68.4 455.4,67.5 458.5,69.4 C461.5,71.3 464.6,74.4 467.6,76.2 C470.7,78.0 473.7,81.6 476.8,80.5 C479.8,79.4 482.9,70.5 485.9,69.4 C489.0,68.3 492.0,71.1 495.1,74.0 C498.1,76.9 501.2,85.2 504.2,87.0 C507.3,88.8 510.3,84.6 513.3,84.9 C516.4,85.2 519.4,87.1 522.5,88.7 C525.5,90.3 528.6,92.7 531.6,94.3 C534.7,95.9 534.7,97.7 540.8,98.4 C546.9,99.1 560.6,97.6 568.2,98.4 C575.8,99.2 580.4,102.5 586.5,103.2 C592.6,103.9 597.2,110.0 604.8,102.4 C612.4,94.8 624.6,67.3 632.2,57.8 C639.8,48.3 644.4,41.8 650.5,45.6 C656.6,49.4 661.2,76.7 668.8,80.6 C676.4,84.5 690.1,68.5 696.2,68.9 C702.3,69.3 702.3,80.6 705.4,82.8 C705.7,82.0 707.9,81.9 714.5,81.9" fill="none" stroke="#8c6a72" stroke-width="1.1"/><path d="M440.2,68.5 C441.7,63.7 446.3,40.1 449.3,39.9 C452.4,39.7 455.4,60.7 458.5,67.1 C461.5,73.5 464.6,75.7 467.6,78.4 C470.7,81.1 473.7,82.2 476.8,83.4 C479.8,84.6 482.9,83.3 485.9,85.3 C489.0,87.2 492.0,92.9 495.1,95.1 C498.1,97.3 501.2,98.1 504.2,98.6 C507.3,99.1 510.3,97.6 513.3,97.9 C516.4,98.2 519.4,99.4 522.5,100.4 C525.5,101.4 528.6,102.9 531.6,104.0 C534.7,105.1 534.7,106.8 540.8,107.2 C546.9,107.6 562.1,106.3 568.2,106.4 C574.3,106.5 574.3,106.6 577.4,108.0 C580.4,109.4 581.9,111.2 586.5,114.6 C591.1,118.0 597.2,130.2 604.8,128.5 C612.4,126.8 624.6,105.6 632.2,104.5 C639.8,103.4 644.4,112.9 650.5,121.7 C656.6,130.5 661.2,152.2 668.8,157.4 C676.4,162.7 690.1,156.8 696.2,153.2 C702.3,149.6 702.3,135.3 705.4,135.8 C705.7,154.2 707.9,156.3 714.5,156.3" fill="none" stroke="#6a9470" stroke-width="1.1"/><path d="M440.2,89.0 C441.7,82.2 446.3,51.9 449.3,48.0 C452.4,44.1 455.4,62.4 458.5,65.6 C461.5,68.8 464.6,65.9 467.6,67.2 C470.7,68.5 473.7,71.8 476.8,73.3 C479.8,74.8 482.9,74.4 485.9,76.2 C489.0,78.0 492.0,82.1 495.1,84.0 C498.1,85.9 501.2,86.4 504.2,87.8 C507.3,89.2 510.3,91.0 513.3,92.3 C516.4,93.6 519.4,94.4 522.5,95.8 C525.5,97.2 528.6,98.9 531.6,100.8 C534.7,102.7 534.7,106.3 540.8,107.2 C546.9,108.1 562.1,106.8 568.2,106.4 C574.3,106.0 574.3,103.2 577.4,104.6 C580.4,106.0 581.9,109.3 586.5,115.0 C591.1,120.7 597.2,134.6 604.8,138.9 C612.4,143.2 624.6,140.4 632.2,140.9 C639.8,141.4 644.4,138.4 650.5,141.7 C656.6,145.0 661.2,156.7 668.8,160.9 C676.4,165.1 690.1,165.8 696.2,167.1 C702.3,168.4 702.3,170.0 705.4,168.7 C705.7,160.0 707.9,159.0 714.5,159.0" fill="none" stroke="#3a3a3a" stroke-width="0.9"/></g><rect x="440.2" y="5.2" width="274.3" height="235.8" fill="none" stroke="#858585" stroke-width="1.3"/><circle cx="440.2" cy="169.8" r="0.9" fill="#2a4444"/><circle cx="449.3" cy="176.0" r="0.9" fill="#2a4444"/><circle cx="458.5" cy="183.3" r="0.9" fill="#2a4444"/><circle cx="495.1" cy="188.4" r="0.9" fill="#2a4444"/><circle cx="504.2" cy="191.0" r="0.9" fill="#2a4444"/><circle cx="513.3" cy="191.5" r="0.9" fill="#2a4444"/><circle cx="531.6" cy="200.6" r="0.9" fill="#2a4444"/><circle cx="540.8" cy="202.6" r="0.9" fill="#2a4444"/><circle cx="568.2" cy="196.6" r="0.9" fill="#2a4444"/><circle cx="577.4" cy="200.0" r="0.9" fill="#2a4444"/><circle cx="586.5" cy="197.6" r="0.9" fill="#2a4444"/><circle cx="604.8" cy="209.4" r="0.9" fill="#2a4444"/><circle cx="632.2" cy="194.6" r="0.9" fill="#2a4444"/><circle cx="650.5" cy="191.6" r="0.9" fill="#2a4444"/><circle cx="668.8" cy="202.0" r="0.9" fill="#2a4444"/><circle cx="696.2" cy="194.4" r="0.9" fill="#2a4444"/><circle cx="705.4" cy="190.6" r="0.9" fill="#2a4444"/><circle cx="714.5" cy="194.6" r="0.9" fill="#2a4444"/><path d="M440.2,47.6 L441.7,50.4 L438.7,50.4 Z" fill="#8b1025"/><path d="M449.3,63.4 L450.8,66.2 L447.8,66.2 Z" fill="#8b1025"/><path d="M458.5,67.8 L460.0,70.6 L457.0,70.6 Z" fill="#8b1025"/><path d="M467.6,74.5 L469.1,77.4 L466.1,77.4 Z" fill="#8b1025"/><path d="M476.8,78.8 L478.3,81.7 L475.3,81.7 Z" fill="#8b1025"/><path d="M485.9,67.8 L487.4,70.6 L484.4,70.6 Z" fill="#8b1025"/><path d="M495.1,72.3 L496.6,75.2 L493.6,75.2 Z" fill="#8b1025"/><path d="M504.2,85.3 L505.7,88.2 L502.7,88.2 Z" fill="#8b1025"/><path d="M513.3,83.2 L514.8,86.1 L511.8,86.1 Z" fill="#8b1025"/><path d="M522.5,87.0 L524.0,89.9 L521.0,89.9 Z" fill="#8b1025"/><path d="M531.6,92.6 L533.1,95.5 L530.1,95.5 Z" fill="#8b1025"/><path d="M540.8,96.8 L542.3,99.6 L539.3,99.6 Z" fill="#8b1025"/><path d="M568.2,96.8 L569.7,99.6 L566.7,99.6 Z" fill="#8b1025"/><path d="M586.5,101.5 L588.0,104.4 L585.0,104.4 Z" fill="#8b1025"/><path d="M604.8,100.8 L606.3,103.6 L603.3,103.6 Z" fill="#8b1025"/><path d="M632.2,56.1 L633.7,59.0 L630.7,59.0 Z" fill="#8b1025"/><path d="M650.5,44.0 L652.0,46.8 L649.0,46.8 Z" fill="#8b1025"/><path d="M668.8,78.9 L670.3,81.8 L667.3,81.8 Z" fill="#8b1025"/><path d="M696.2,67.2 L697.7,70.1 L694.7,70.1 Z" fill="#8b1025"/><path d="M705.4,81.1 L706.9,84.0 L703.9,84.0 Z" fill="#8b1025"/><path d="M714.5,80.2 L716.0,83.1 L713.0,83.1 Z" fill="#8b1025"/><rect x="438.4" y="87.2" width="3.5" height="3.5" fill="#000000"/><rect x="447.6" y="46.2" width="3.5" height="3.5" fill="#000000"/><rect x="456.7" y="63.8" width="3.5" height="3.5" fill="#000000"/><rect x="465.9" y="65.5" width="3.5" height="3.5" fill="#000000"/><rect x="475.0" y="71.5" width="3.5" height="3.5" fill="#000000"/><rect x="484.2" y="74.5" width="3.5" height="3.5" fill="#000000"/><rect x="493.3" y="82.2" width="3.5" height="3.5" fill="#000000"/><rect x="502.5" y="86.0" width="3.5" height="3.5" fill="#000000"/><rect x="511.6" y="90.5" width="3.5" height="3.5" fill="#000000"/><rect x="520.7" y="94.0" width="3.5" height="3.5" fill="#000000"/><rect x="529.9" y="99.0" width="3.5" height="3.5" fill="#000000"/><rect x="539.0" y="105.5" width="3.5" height="3.5" fill="#000000"/><rect x="566.5" y="104.7" width="3.5" height="3.5" fill="#000000"/><rect x="575.6" y="102.8" width="3.5" height="3.5" fill="#000000"/><rect x="584.7" y="113.2" width="3.5" height="3.5" fill="#000000"/><rect x="603.0" y="137.2" width="3.5" height="3.5" fill="#000000"/><rect x="630.5" y="139.2" width="3.5" height="3.5" fill="#000000"/><rect x="648.7" y="139.9" width="3.5" height="3.5" fill="#000000"/><rect x="667.0" y="159.2" width="3.5" height="3.5" fill="#000000"/><rect x="694.5" y="165.3" width="3.5" height="3.5" fill="#000000"/><rect x="703.6" y="166.9" width="3.5" height="3.5" fill="#000000"/><rect x="712.8" y="157.2" width="3.5" height="3.5" fill="#000000"/><circle cx="440.2" cy="68.5" r="1.9" fill="#0e7a0e"/><circle cx="449.3" cy="39.9" r="1.9" fill="#0e7a0e"/><circle cx="458.5" cy="67.1" r="1.9" fill="#0e7a0e"/><circle cx="467.6" cy="78.4" r="1.9" fill="#0e7a0e"/><circle cx="476.8" cy="83.4" r="1.9" fill="#0e7a0e"/><circle cx="485.9" cy="85.3" r="1.9" fill="#0e7a0e"/><circle cx="495.1" cy="95.1" r="1.9" fill="#0e7a0e"/><circle cx="504.2" cy="98.6" r="1.9" fill="#0e7a0e"/><circle cx="513.3" cy="97.9" r="1.9" fill="#0e7a0e"/><circle cx="522.5" cy="100.4" r="1.9" fill="#0e7a0e"/><circle cx="531.6" cy="104.0" r="1.9" fill="#0e7a0e"/><circle cx="540.8" cy="107.2" r="1.9" fill="#0e7a0e"/><circle cx="568.2" cy="106.4" r="1.9" fill="#0e7a0e"/><circle cx="577.4" cy="108.0" r="1.9" fill="#0e7a0e"/><circle cx="586.5" cy="114.6" r="1.9" fill="#0e7a0e"/><circle cx="604.8" cy="128.5" r="1.9" fill="#0e7a0e"/><circle cx="632.2" cy="104.5" r="1.9" fill="#0e7a0e"/><circle cx="650.5" cy="121.7" r="1.9" fill="#0e7a0e"/><circle cx="668.8" cy="157.4" r="1.9" fill="#0e7a0e"/><circle cx="696.2" cy="153.2" r="1.9" fill="#0e7a0e"/><circle cx="705.4" cy="135.8" r="1.9" fill="#0e7a0e"/><circle cx="714.5" cy="156.3" r="1.9" fill="#0e7a0e"/><path d="M523,24.4 H546.2" stroke="#3a3a3a" stroke-width="1.1"/><rect x="532.8" y="22.5" width="3.8" height="3.8" fill="#000000"/><text x="549.9" y="27.8" font-size="12.5" text-anchor="start" font-weight="normal" font-style="normal" fill="#1a1a1a" textLength="45.2" lengthAdjust="spacingAndGlyphs">bare Mo</text><path d="M523,40.6 H546.2" stroke="#647c7c" stroke-width="1.1"/><circle cx="534.7" cy="40.6" r="0.9" fill="#2a4444"/><text x="549.9" y="44.3" font-size="12.5" text-anchor="start" font-weight="normal" font-style="normal" fill="#1a1a1a" textLength="34.5" lengthAdjust="spacingAndGlyphs">Mo/Pt</text><path d="M523,57.3 H546.2" stroke="#6a9470" stroke-width="1.1"/><circle cx="534.7" cy="57.3" r="2.0" fill="#0e7a0e"/><text x="549.9" y="60.6" font-size="12.5" text-anchor="start" font-weight="normal" font-style="normal" fill="#1a1a1a" textLength="31.4" lengthAdjust="spacingAndGlyphs">Mo-G</text><path d="M523,73.5 H546.2" stroke="#8c6a72" stroke-width="1.1"/><path d="M534.7,71.8 L536.2,74.7 L533.2,74.7 Z" fill="#8b1025"/><text x="549.9" y="77.1" font-size="12.5" text-anchor="start" font-weight="normal" font-style="normal" fill="#1a1a1a" textLength="51.3" lengthAdjust="spacingAndGlyphs">Mo/Pt-G</text><text x="435.3" y="9.5" font-size="12.8" text-anchor="end" font-weight="normal" font-style="normal" fill="#1a1a1a" >5</text><text x="435.3" y="68.4" font-size="12.8" text-anchor="end" font-weight="normal" font-style="normal" fill="#1a1a1a" >4.5</text><text x="435.3" y="127.4" font-size="12.8" text-anchor="end" font-weight="normal" font-style="normal" fill="#1a1a1a" >4</text><text x="435.3" y="186.4" font-size="12.8" text-anchor="end" font-weight="normal" font-style="normal" fill="#1a1a1a" >3.5</text><text x="435.3" y="245.3" font-size="12.8" text-anchor="end" font-weight="normal" font-style="normal" fill="#1a1a1a" >3</text><text x="440.2" y="254.3" font-size="12.8" text-anchor="middle" font-weight="normal" font-style="normal" fill="#1a1a1a" >0</text><text x="485.9" y="254.3" font-size="12.8" text-anchor="middle" font-weight="normal" font-style="normal" fill="#1a1a1a" >5</text><text x="531.6" y="254.3" font-size="12.8" text-anchor="middle" font-weight="normal" font-style="normal" fill="#1a1a1a" >10</text><text x="577.4" y="254.3" font-size="12.8" text-anchor="middle" font-weight="normal" font-style="normal" fill="#1a1a1a" >15</text><text x="623.1" y="254.3" font-size="12.8" text-anchor="middle" font-weight="normal" font-style="normal" fill="#1a1a1a" >20</text><text x="668.8" y="254.3" font-size="12.8" text-anchor="middle" font-weight="normal" font-style="normal" fill="#1a1a1a" >25</text><text x="714.5" y="254.3" font-size="12.8" text-anchor="middle" font-weight="normal" font-style="normal" fill="#1a1a1a" >30</text><text x="577.2" y="274.0" font-size="14.5" text-anchor="middle" font-weight="normal" font-style="normal" fill="#1a1a1a" textLength="46.5" lengthAdjust="spacingAndGlyphs"><tspan font-style="italic">t</tspan> (days)</text><g transform="rotate(-90)"><text x="-173.6" y="407.4" font-size="14.5" textLength="19.8" lengthAdjust="spacingAndGlyphs" fill="#1a1a1a">log</text><text x="-154.2" y="407.0" font-size="14.5" fill="#1a1a1a">(</text><text x="-149.1" y="407.4" font-size="14.5" font-style="italic" textLength="10.0" lengthAdjust="spacingAndGlyphs" fill="#1a1a1a">R</text><text x="-140.0" y="409.0" font-size="10.8" textLength="9.4" lengthAdjust="spacingAndGlyphs" fill="#1a1a1a">ct</text><text x="-125.4" y="407.6" font-size="14.5" textLength="7.8" lengthAdjust="spacingAndGlyphs" fill="#1a1a1a">/</text><text x="-114.2" y="407.4" font-size="14.5" textLength="10.2" lengthAdjust="spacingAndGlyphs" fill="#1a1a1a">&#937;</text><text x="-102.2" y="407.4" font-size="14.5" textLength="16.5" lengthAdjust="spacingAndGlyphs" fill="#1a1a1a">cm</text><text x="-85.5" y="401.3" font-size="10.2" textLength="6.6" lengthAdjust="spacingAndGlyphs" fill="#1a1a1a">2</text><text x="-78.7" y="407.0" font-size="14.5" fill="#1a1a1a">)</text></g><text x="393.3" y="31.4" font-size="26.8" text-anchor="start" font-weight="bold" font-style="normal" fill="#111" >(b)</text>
</svg></body></html>
